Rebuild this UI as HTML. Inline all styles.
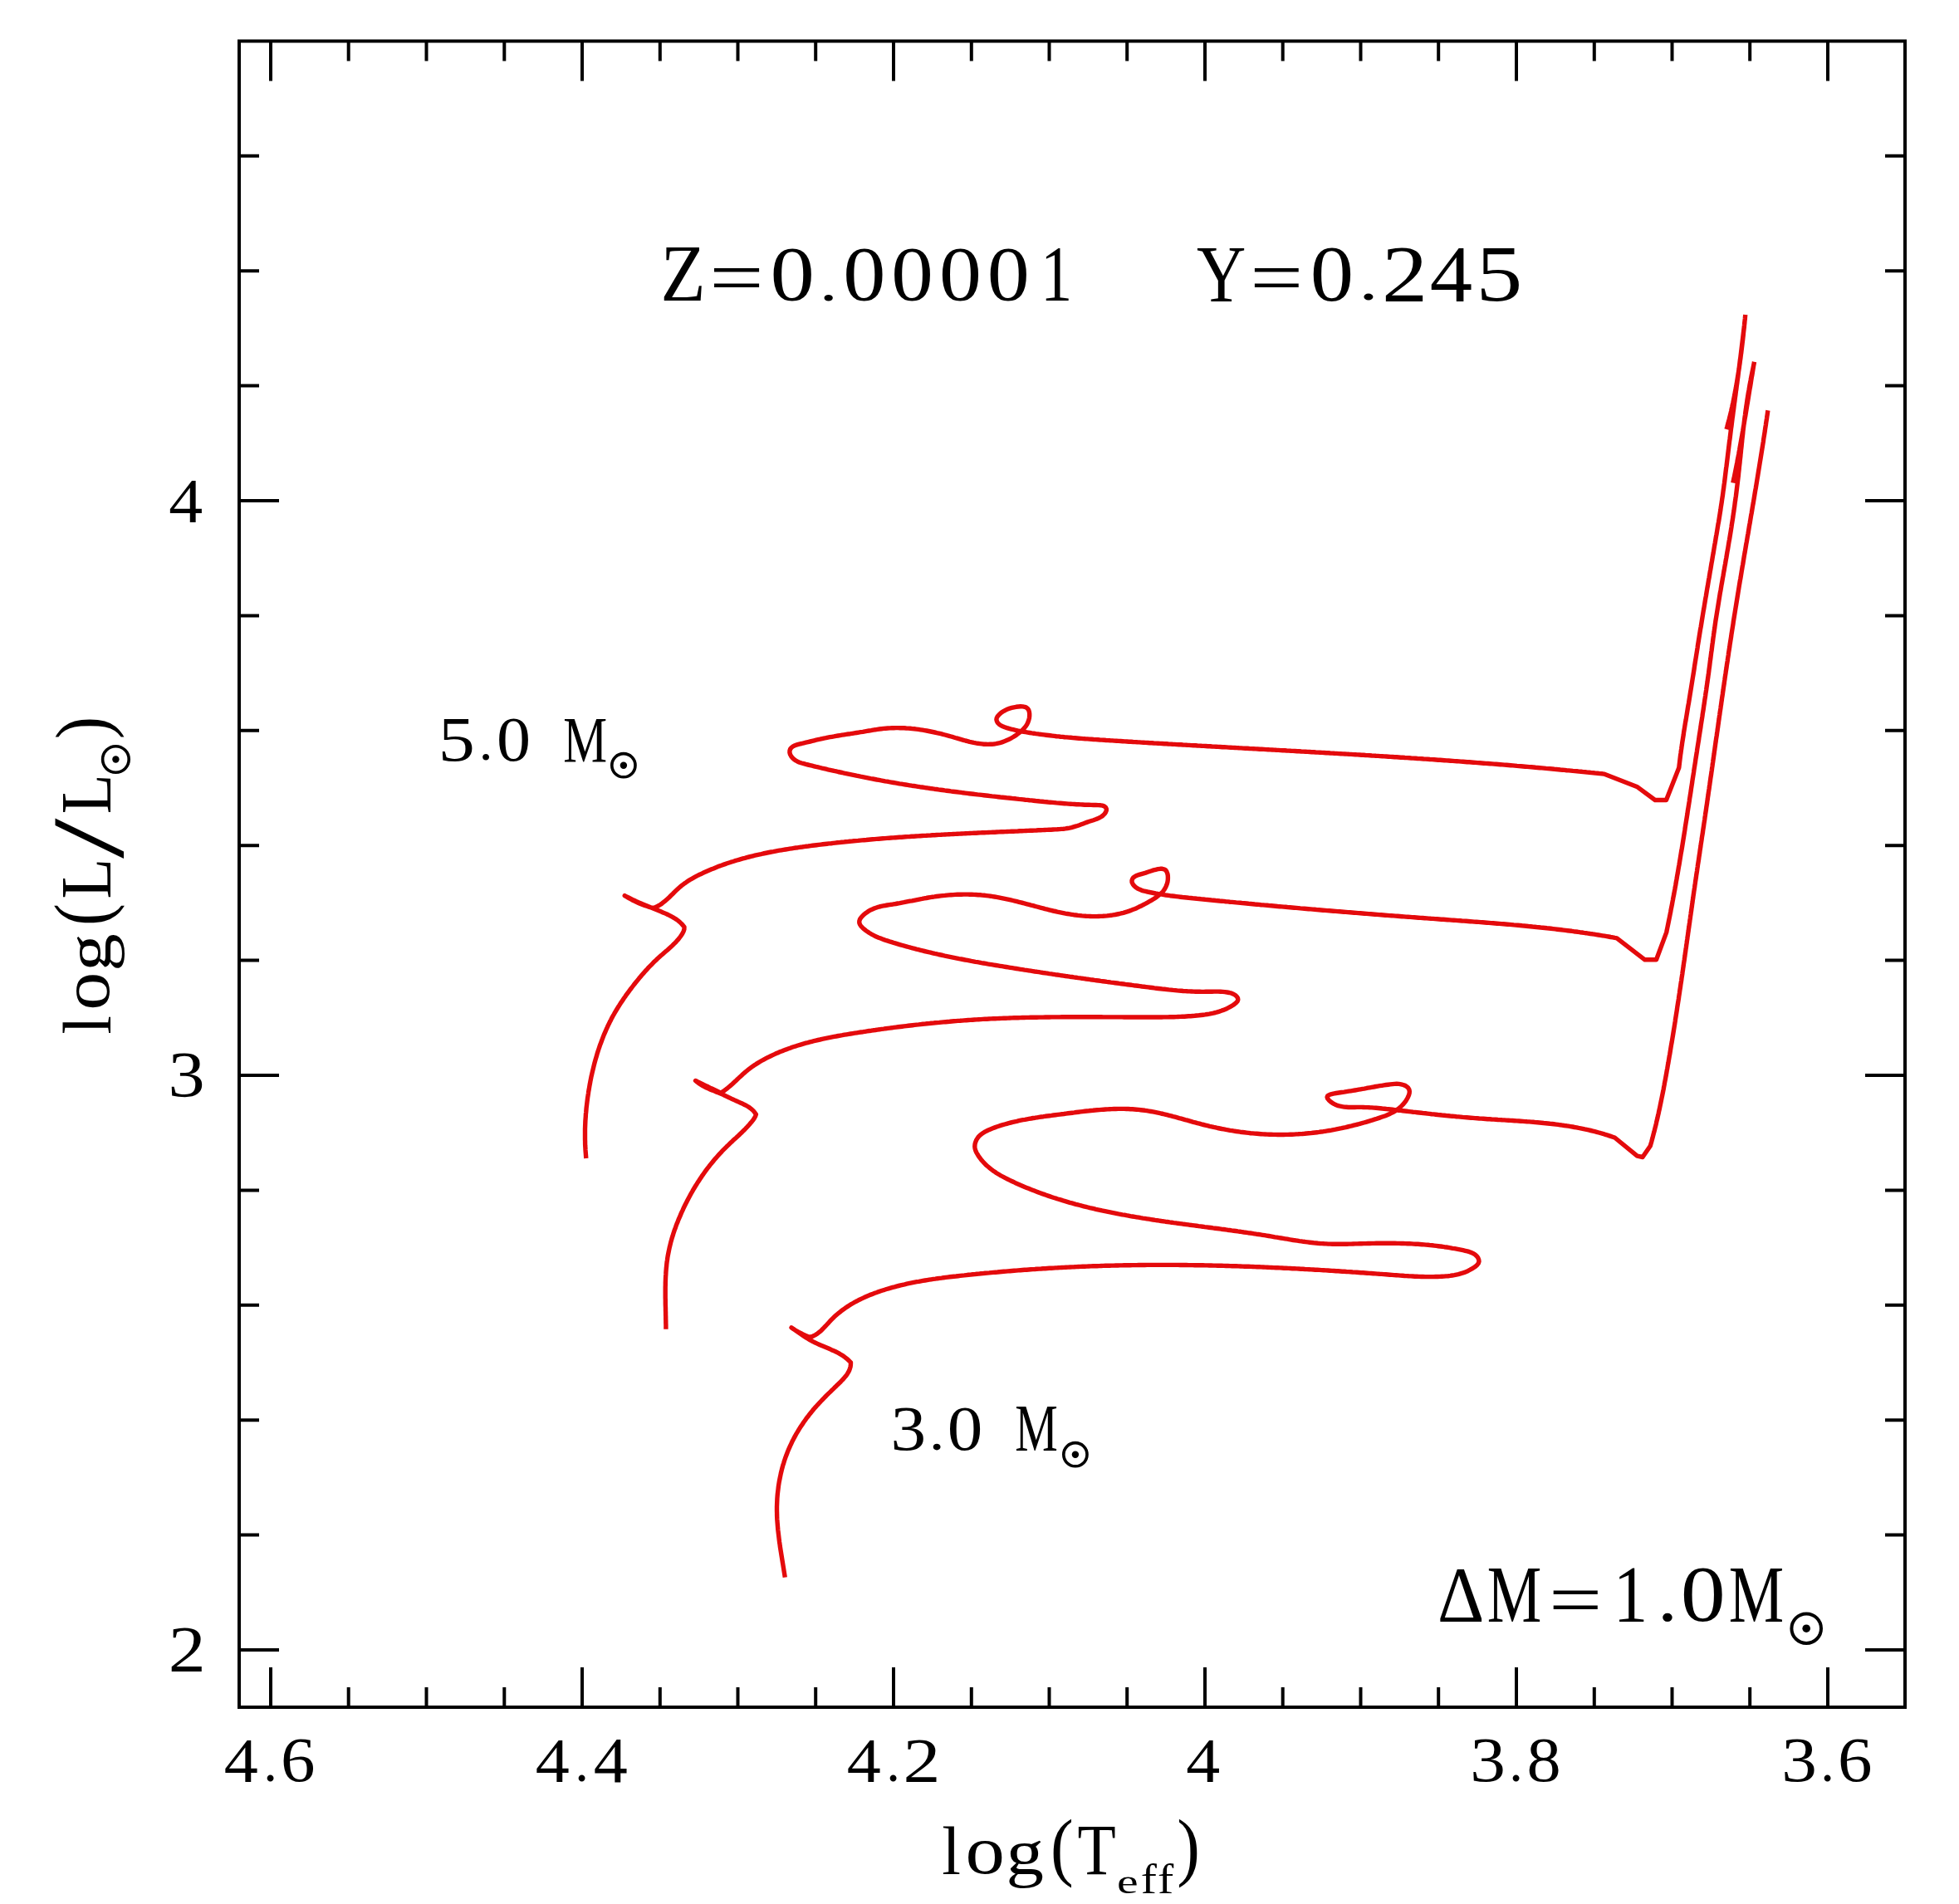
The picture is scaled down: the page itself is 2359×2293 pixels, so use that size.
<!DOCTYPE html><html><head><meta charset="utf-8"><style>html,body{margin:0;padding:0;background:#fff;}svg{display:block;}text{font-family:"Liberation Serif",serif;fill:#000;}</style></head><body>
<svg width="2359" height="2293" viewBox="0 0 2359 2293">
<rect width="100%" height="100%" fill="#fff"/>
<g stroke="#000" stroke-width="4" fill="none" stroke-linecap="square">
<path d="M288 49.5H2294V2056H288Z" stroke-linejoin="miter"/>
<path d="M326.0 2056v-48M326.0 49.5v48M419.7 2056v-24M419.7 49.5v24M513.5 2056v-24M513.5 49.5v24M607.3 2056v-24M607.3 49.5v24M701.0 2056v-48M701.0 49.5v48M794.8 2056v-24M794.8 49.5v24M888.5 2056v-24M888.5 49.5v24M982.2 2056v-24M982.2 49.5v24M1076.0 2056v-48M1076.0 49.5v48M1169.8 2056v-24M1169.8 49.5v24M1263.5 2056v-24M1263.5 49.5v24M1357.2 2056v-24M1357.2 49.5v24M1451.0 2056v-48M1451.0 49.5v48M1544.7 2056v-24M1544.7 49.5v24M1638.5 2056v-24M1638.5 49.5v24M1732.2 2056v-24M1732.2 49.5v24M1826.0 2056v-48M1826.0 49.5v48M1919.8 2056v-24M1919.8 49.5v24M2013.5 2056v-24M2013.5 49.5v24M2107.2 2056v-24M2107.2 49.5v24M2201.0 2056v-48M2201.0 49.5v48M288 1987.0h48M2294 1987.0h-48M288 1848.6h24M2294 1848.6h-24M288 1710.2h24M2294 1710.2h-24M288 1571.8h24M2294 1571.8h-24M288 1433.4h24M2294 1433.4h-24M288 1295.0h48M2294 1295.0h-48M288 1156.6h24M2294 1156.6h-24M288 1018.2h24M2294 1018.2h-24M288 879.8h24M2294 879.8h-24M288 741.4h24M2294 741.4h-24M288 603.0h48M2294 603.0h-48M288 464.6h24M2294 464.6h-24M288 326.2h24M2294 326.2h-24M288 187.8h24M2294 187.8h-24" stroke-linecap="butt"/>
</g>
<text font-size="76.81" transform="translate(269.66 2146.00) scale(1.0696 1)">4</text>
<text font-size="68.09" transform="translate(317.17 2144.98) scale(0.9792 1)">.</text>
<text font-size="75.84" transform="translate(337.97 2145.24) scale(1.0950 1)">6</text>
<text font-size="76.81" transform="translate(644.66 2146.00) scale(1.0696 1)">4</text>
<text font-size="68.09" transform="translate(692.17 2144.98) scale(0.9792 1)">.</text>
<text font-size="77.57" transform="translate(714.86 2146.00) scale(1.0591 1)">4</text>
<text font-size="76.81" transform="translate(1019.66 2146.00) scale(1.0696 1)">4</text>
<text font-size="68.09" transform="translate(1067.17 2144.98) scale(0.9792 1)">.</text>
<text font-size="76.98" transform="translate(1087.45 2146.00) scale(1.1691 1)">2</text>
<text font-size="75.09" transform="translate(1770.25 2145.25) scale(1.1364 1)">3</text>
<text font-size="68.09" transform="translate(1817.17 2144.98) scale(0.9792 1)">.</text>
<text font-size="75.56" transform="translate(1838.41 2145.24) scale(1.0900 1)">8</text>
<text font-size="75.09" transform="translate(2145.25 2145.25) scale(1.1364 1)">3</text>
<text font-size="68.09" transform="translate(2192.17 2144.98) scale(0.9792 1)">.</text>
<text font-size="75.84" transform="translate(2212.97 2145.24) scale(1.0950 1)">6</text>
<text font-size="76.65" transform="translate(1428.26 2146.10) scale(1.0689 1)">4</text>
<text font-size="76.20" transform="translate(203.36 628.90) scale(1.0753 1)">4</text>
<text font-size="77.92" transform="translate(202.61 1320.42) scale(1.1325 1)">3</text>
<text font-size="77.43" transform="translate(202.85 2012.10) scale(1.1623 1)">2</text>
<text font-size="96.79" transform="translate(795.59 362.30) scale(0.9161 1)">Z</text>
<text font-size="90.40" transform="translate(854.19 365.06) scale(1.2846 1)">=</text>
<text font-size="93.04" transform="translate(927.59 361.37) scale(1.1482 1)">0</text>
<text font-size="63.83" transform="translate(986.81 361.54) scale(1.3708 1)">.</text>
<text font-size="93.04" transform="translate(1015.16 361.37) scale(1.1001 1)">0</text>
<text font-size="93.04" transform="translate(1073.21 361.37) scale(1.0875 1)">0</text>
<text font-size="93.04" transform="translate(1130.88 361.37) scale(1.0951 1)">0</text>
<text font-size="93.04" transform="translate(1188.77 361.37) scale(1.0976 1)">0</text>
<text font-size="96.06" transform="translate(1252.90 362.30) scale(0.7974 1)">1</text>
<text font-size="97.79" transform="translate(1440.98 362.80) scale(0.8389 1)">Y</text>
<text font-size="90.00" transform="translate(1505.32 365.07) scale(1.2616 1)">=</text>
<text font-size="94.89" transform="translate(1577.77 361.85) scale(1.1035 1)">0</text>
<text font-size="67.23" transform="translate(1636.33 361.09) scale(1.3882 1)">.</text>
<text font-size="96.68" transform="translate(1663.93 362.80) scale(1.1430 1)">2</text>
<text font-size="97.41" transform="translate(1721.64 362.80) scale(1.0552 1)">4</text>
<text font-size="96.32" transform="translate(1777.49 361.84) scale(1.1582 1)">5</text>
<text font-size="76.84" transform="translate(527.83 915.63) scale(1.1478 1)">5</text>
<text font-size="62.98" transform="translate(576.67 915.46) scale(1.0586 1)">.</text>
<text font-size="75.70" transform="translate(598.12 915.64) scale(1.0847 1)">0</text>
<text font-size="78.93" transform="translate(678.22 917.00) scale(0.7525 1)">M</text>
<text font-size="77.03" transform="translate(1072.55 1746.03) scale(1.1079 1)">3</text>
<text font-size="66.38" transform="translate(1118.83 1745.80) scale(1.1298 1)">.</text>
<text font-size="76.74" transform="translate(1140.71 1746.03) scale(1.1099 1)">0</text>
<text font-size="79.39" transform="translate(1222.16 1747.00) scale(0.7300 1)">M</text>
<text font-size="94.85" transform="translate(1730.91 1953.20) scale(0.9252 1)">Δ</text>
<text font-size="97.40" transform="translate(1790.79 1953.20) scale(0.7570 1)">M</text>
<text font-size="88.80" transform="translate(1865.09 1955.53) scale(1.2860 1)">=</text>
<text font-size="96.67" transform="translate(1942.73 1953.20) scale(0.8599 1)">1</text>
<text font-size="86.81" transform="translate(1995.66 1951.90) scale(1.1232 1)">.</text>
<text font-size="94.52" transform="translate(2023.75 1952.25) scale(1.1426 1)">0</text>
<text font-size="97.40" transform="translate(2081.76 1953.20) scale(0.7669 1)">M</text>
<circle cx="750.9" cy="921.7" r="14.1" fill="none" stroke="#000" stroke-width="3.6"/><circle cx="750.9" cy="921.7" r="4.2" fill="#000"/>
<circle cx="1294.9" cy="1751.7" r="14.1" fill="none" stroke="#000" stroke-width="3.6"/><circle cx="1294.9" cy="1751.7" r="4.2" fill="#000"/>
<circle cx="2175.2" cy="1961.2" r="17.8" fill="none" stroke="#000" stroke-width="4"/><circle cx="2175.2" cy="1961.2" r="4.8" fill="#000"/>
<text font-size="82.30" transform="translate(1134.27 2256.70) scale(0.9925 1)">l</text>
<text font-size="82.92" transform="translate(1162.44 2255.87) scale(1.1436 1)">o</text>
<text font-size="79.03" transform="translate(1211.53 2257.21) scale(1.1510 1)">g</text>
<text font-size="91.90" transform="translate(1265.06 2253.67) scale(0.9046 1)">(</text>
<text font-size="87.33" transform="translate(1297.48 2256.70) scale(0.8665 1)">T</text>
<text font-size="40.42" transform="translate(1344.99 2279.60) scale(1.4310 1)">e</text>
<text font-size="49.65" transform="translate(1373.77 2280.00) scale(1.1586 1)">f</text>
<text font-size="49.65" transform="translate(1394.06 2280.00) scale(1.1653 1)">f</text>
<text font-size="91.90" transform="translate(1417.30 2253.67) scale(0.9043 1)">)</text>
<text font-size="83.31" transform="matrix(0 -0.9754 1 0 132.80 1245.83)">l</text>
<text font-size="81.46" transform="matrix(0 -1.1323 1 0 131.39 1216.76)">o</text>
<text font-size="79.03" transform="matrix(0 -1.1481 1 0 133.41 1169.66)">g</text>
<text font-size="92.45" transform="matrix(0 -0.8653 1 0 130.25 1114.80)">(</text>
<text font-size="87.63" transform="matrix(0 -0.9107 1 0 132.80 1082.39)">L</text>
<text font-size="123.43" transform="matrix(0 -1.4130 1 0 148.07 1034.00)">/</text>
<text font-size="87.63" transform="matrix(0 -0.8975 1 0 132.80 980.26)">L</text>
<text font-size="91.13" transform="matrix(0 -0.8907 1 0 129.93 890.04)">)</text>
<circle cx="139.4" cy="914.5" r="15.8" fill="none" stroke="#000" stroke-width="3.6"/><circle cx="139.4" cy="914.5" r="4.2" fill="#000"/>
<g fill="none" stroke="#e40a0c" stroke-width="5.4" stroke-linejoin="round" stroke-linecap="butt">
<path d="M705.8 1395.0L705.6 1392.5 705.4 1389.9 705.2 1387.4 705.0 1384.9 704.9 1382.3 704.7 1379.8 704.6 1377.3 704.6 1374.7 704.5 1372.2 704.5 1369.7 704.5 1367.2 704.5 1364.7 704.5 1362.1 704.5 1359.6 704.6 1357.1 704.7 1354.6 704.8 1352.1 704.9 1349.6 705.1 1347.1 705.3 1344.6 705.4 1342.0 705.7 1339.5 705.9 1337.0 706.1 1334.5 706.4 1332.0 706.7 1329.5 707.0 1327.0 707.3 1324.6 707.6 1322.1 708.0 1319.6 708.4 1317.1 708.7 1314.6 709.2 1312.1 709.6 1309.6 710.0 1307.1 710.5 1304.6 710.9 1302.2 711.4 1299.7 711.9 1297.2 712.5 1294.7 713.0 1292.3 713.6 1289.8 714.2 1287.3 714.8 1284.9 715.4 1282.4 716.0 1280.0 716.7 1277.5 717.4 1275.1 718.1 1272.7 718.8 1270.2 719.5 1267.8 720.3 1265.4 721.1 1263.0 721.9 1260.6 722.7 1258.2 723.6 1255.9 724.5 1253.5 725.4 1251.1 726.3 1248.8 727.2 1246.4 728.2 1244.1 729.2 1241.8 730.2 1239.5 731.3 1237.2 732.3 1234.9 733.4 1232.7 734.5 1230.4 735.7 1228.2 736.8 1225.9 738.0 1223.7 739.3 1221.5 740.5 1219.3 741.8 1217.1 743.1 1215.0 744.4 1212.8 745.8 1210.7 747.1 1208.6 748.5 1206.5 749.9 1204.4 751.3 1202.3 752.8 1200.2 754.2 1198.1 755.7 1196.1 757.2 1194.1 758.7 1192.0 760.3 1190.0 761.8 1188.0 763.3 1186.0 764.9 1184.0 766.5 1182.1 768.1 1180.1 769.7 1178.1 771.3 1176.2 772.9 1174.3 774.6 1172.4 776.2 1170.5 777.9 1168.6 779.6 1166.8 781.3 1164.9 783.1 1163.1 784.9 1161.3 786.6 1159.5 788.4 1157.7 790.3 1156.0 792.1 1154.2 794.0 1152.5 795.9 1150.8 797.8 1149.2 799.7 1147.5 801.7 1145.8 803.6 1144.2 805.5 1142.5 807.4 1140.8 809.2 1139.1 811.0 1137.3 812.8 1135.6 814.5 1133.8 816.2 1131.9 817.8 1130.0 819.3 1128.0 820.7 1126.0 822.0 1123.9 823.1 1121.6 823.9 1119.2 824.0 1116.5L822.4 1114.4 820.6 1112.4 818.7 1110.6 816.8 1108.9 814.7 1107.4 812.5 1106.0 810.2 1104.6 807.9 1103.4 805.5 1102.2 803.2 1101.0 800.7 1099.9 798.3 1098.9 795.8 1097.8 793.3 1096.8 790.9 1095.8 788.4 1094.8 785.9 1093.8 783.5 1092.8 781.0 1091.8 778.6 1090.8 776.1 1089.8 773.7 1088.8 771.3 1087.7 768.9 1086.7 766.5 1085.6 764.1 1084.5 761.7 1083.4 759.3 1082.2 756.9 1081.0 754.6 1079.8 752.2 1078.6L754.5 1080.0 756.8 1081.4 759.2 1082.7 761.5 1084.0 763.9 1085.2 766.3 1086.4 768.8 1087.5 771.2 1088.5 773.7 1089.5 776.2 1090.4 778.8 1091.3 781.3 1092.1 783.9 1092.9 786.5 1093.6L788.9 1092.7 791.2 1091.6 793.4 1090.5 795.5 1089.2 797.6 1087.7 799.5 1086.2 801.5 1084.6 803.3 1083.0 805.2 1081.3 807.0 1079.5 808.8 1077.7 810.6 1076.0 812.4 1074.2 814.2 1072.4 816.0 1070.7 817.9 1069.0 819.8 1067.4 821.7 1065.8 823.7 1064.3 825.8 1062.9 827.8 1061.5 829.9 1060.1 832.1 1058.8 834.3 1057.6 836.4 1056.4 838.7 1055.2 840.9 1054.0 843.1 1052.9 845.4 1051.9 847.7 1050.8 850.0 1049.8 852.3 1048.8 854.6 1047.8 856.9 1046.8 859.2 1045.9 861.5 1044.9 863.8 1044.0 866.1 1043.1 868.5 1042.3 870.8 1041.4 873.2 1040.6 875.5 1039.8 877.9 1039.0 880.3 1038.2 882.7 1037.5 885.0 1036.7 887.4 1036.0 889.8 1035.3 892.2 1034.6 894.6 1033.9 897.0 1033.3 899.4 1032.6 901.9 1032.0 904.3 1031.4 906.7 1030.8 909.1 1030.2 911.6 1029.6 914.0 1029.1 916.5 1028.6 918.9 1028.0 921.4 1027.5 923.8 1027.0 926.3 1026.5 928.7 1026.0 931.2 1025.6 933.7 1025.1 936.1 1024.6 938.6 1024.2 941.1 1023.8 943.5 1023.4 946.0 1023.0 948.5 1022.6 951.0 1022.2 953.5 1021.8 955.9 1021.4 958.4 1021.0 960.9 1020.7 963.4 1020.3 965.9 1020.0 968.4 1019.6 970.9 1019.3 973.4 1019.0 975.9 1018.6 978.4 1018.3 980.9 1018.0 983.3 1017.7 985.8 1017.4 988.3 1017.1 990.8 1016.8 993.3 1016.5 995.8 1016.2 998.3 1015.9 1000.8 1015.7 1003.3 1015.4 1005.8 1015.1 1008.3 1014.8 1010.8 1014.6 1013.3 1014.3 1015.8 1014.1 1018.2 1013.8 1020.7 1013.6 1023.2 1013.3 1025.7 1013.1 1028.2 1012.8 1030.7 1012.6 1033.2 1012.4 1035.7 1012.1 1038.2 1011.9 1040.7 1011.7 1043.2 1011.5 1045.7 1011.2 1048.2 1011.0 1050.7 1010.8 1053.1 1010.6 1055.6 1010.4 1058.1 1010.2 1060.6 1010.0 1063.1 1009.8 1065.6 1009.6 1068.1 1009.4 1070.6 1009.2 1073.1 1009.0 1075.6 1008.9 1078.1 1008.7 1080.6 1008.5 1083.1 1008.3 1085.6 1008.2 1088.1 1008.0 1090.5 1007.8 1093.0 1007.6 1095.5 1007.5 1098.0 1007.3 1100.5 1007.2 1103.0 1007.0 1105.5 1006.9 1108.0 1006.7 1110.5 1006.5 1113.0 1006.4 1115.5 1006.3 1118.0 1006.1 1120.5 1006.0 1123.0 1005.8 1125.5 1005.7 1128.0 1005.5 1130.5 1005.4 1133.0 1005.3 1135.5 1005.1 1138.0 1005.0 1140.4 1004.9 1142.9 1004.7 1145.4 1004.6 1147.9 1004.5 1150.4 1004.4 1152.9 1004.2 1155.4 1004.1 1157.9 1004.0 1160.4 1003.9 1162.9 1003.7 1165.4 1003.6 1167.9 1003.5 1170.4 1003.4 1172.9 1003.3 1175.4 1003.2 1177.9 1003.0 1180.4 1002.9 1182.9 1002.8 1185.4 1002.7 1187.9 1002.6 1190.4 1002.5 1192.9 1002.4 1195.4 1002.3 1197.9 1002.2 1200.4 1002.0 1202.9 1001.9 1205.4 1001.8 1207.9 1001.7 1210.4 1001.6 1213.0 1001.5 1215.5 1001.4 1218.0 1001.3 1220.5 1001.2 1223.0 1001.1 1225.5 1001.0 1228.0 1000.8 1230.5 1000.7 1233.0 1000.6 1235.5 1000.5 1238.0 1000.4 1240.5 1000.3 1243.0 1000.2 1245.5 1000.1 1248.0 1000.0 1250.5 999.8 1253.1 999.7 1255.6 999.6 1258.1 999.5 1260.6 999.4 1263.1 999.3 1265.6 999.2 1268.1 999.0 1270.6 998.9 1273.1 998.8 1275.6 998.6 1278.1 998.4 1280.6 998.2 1283.1 997.9 1285.5 997.5 1287.9 997.1 1290.3 996.6 1292.7 995.9 1295.1 995.2 1297.4 994.5 1299.7 993.7 1302.1 992.8 1304.4 991.9 1306.8 991.0 1309.2 990.1 1311.7 989.3 1314.2 988.5 1316.7 987.7 1319.3 986.8 1321.7 985.9 1324.1 984.8 1326.3 983.5 1328.3 982.0 1330.1 980.1 1331.5 978.1 1332.3 976.0 1332.3 974.1 1331.5 972.4 1329.9 971.1 1327.8 970.2 1325.3 969.8 1322.5 969.6 1319.6 969.5 1316.7 969.5 1314.0 969.4 1311.3 969.3 1308.7 969.2 1306.1 969.2 1303.6 969.0 1301.2 968.9 1298.8 968.8 1296.4 968.7 1294.0 968.5 1291.6 968.4 1289.2 968.2 1286.8 968.1 1284.4 967.9 1281.9 967.7 1279.5 967.5 1277.0 967.3 1274.6 967.1 1272.1 966.9 1269.6 966.6 1267.1 966.4 1264.7 966.2 1262.2 966.0 1259.7 965.7 1257.2 965.5 1254.7 965.2 1252.1 965.0 1249.6 964.7 1247.1 964.5 1244.6 964.2 1242.1 963.9 1239.6 963.7 1237.1 963.4 1234.6 963.2 1232.1 962.9 1229.6 962.6 1227.1 962.4 1224.6 962.1 1222.1 961.8 1219.6 961.6 1217.1 961.3 1214.6 961.0 1212.1 960.8 1209.6 960.5 1207.1 960.2 1204.6 960.0 1202.1 959.7 1199.6 959.4 1197.1 959.1 1194.6 958.9 1192.1 958.6 1189.6 958.3 1187.1 958.0 1184.7 957.7 1182.2 957.4 1179.7 957.1 1177.2 956.9 1174.7 956.6 1172.2 956.3 1169.8 956.0 1167.3 955.7 1164.8 955.4 1162.3 955.1 1159.8 954.8 1157.4 954.4 1154.9 954.1 1152.4 953.8 1149.9 953.5 1147.4 953.2 1145.0 952.9 1142.5 952.5 1140.0 952.2 1137.5 951.9 1135.1 951.5 1132.6 951.2 1130.1 950.9 1127.7 950.5 1125.2 950.2 1122.7 949.8 1120.2 949.5 1117.8 949.1 1115.3 948.8 1112.8 948.4 1110.4 948.0 1107.9 947.7 1105.4 947.3 1102.9 946.9 1100.5 946.5 1098.0 946.2 1095.5 945.8 1093.1 945.4 1090.6 945.0 1088.1 944.6 1085.7 944.2 1083.2 943.8 1080.7 943.3 1078.2 942.9 1075.8 942.5 1073.3 942.1 1070.8 941.7 1068.4 941.2 1065.9 940.8 1063.4 940.3 1061.0 939.9 1058.5 939.4 1056.0 939.0 1053.5 938.5 1051.1 938.0 1048.6 937.6 1046.1 937.1 1043.7 936.6 1041.2 936.1 1038.7 935.6 1036.3 935.2 1033.8 934.7 1031.3 934.2 1028.9 933.6 1026.4 933.1 1024.0 932.6 1021.5 932.1 1019.1 931.6 1016.6 931.1 1014.2 930.5 1011.7 930.0 1009.3 929.5 1006.9 928.9 1004.4 928.4 1002.0 927.8 999.6 927.3 997.2 926.8 994.7 926.2 992.3 925.6 989.9 925.1 987.5 924.5 985.1 923.9 982.7 923.4 980.3 922.8 977.9 922.2 975.4 921.6 972.9 921.0 970.4 920.4 967.9 919.7 965.4 919.0 962.9 918.2 960.5 917.2 958.3 916.0 956.2 914.5 954.3 912.7 952.7 910.7 951.5 908.5 950.9 906.2 951.0 904.0 951.7 902.0 953.0 900.3 954.9 898.9 957.2 897.8 959.7 896.9 962.4 896.1 965.2 895.5 967.9 894.8 970.5 894.2 973.1 893.6 975.6 893.0 978.0 892.4 980.4 891.8 982.8 891.2 985.2 890.7 987.5 890.2 989.9 889.6 992.2 889.1 994.6 888.7 997.0 888.2 999.4 887.7 1001.8 887.3 1004.2 886.9 1006.7 886.4 1009.1 886.0 1011.6 885.6 1014.0 885.2 1016.5 884.8 1019.0 884.4 1021.5 884.0 1023.9 883.7 1026.4 883.3 1028.9 882.9 1031.4 882.5 1033.9 882.1 1036.4 881.7 1039.0 881.3 1041.5 880.8 1044.0 880.4 1046.5 880.0 1049.0 879.6 1051.5 879.1 1054.0 878.8 1056.5 878.4 1059.0 878.0 1061.5 877.7 1064.0 877.4 1066.5 877.2 1069.0 877.0 1071.5 876.9 1074.0 876.8 1076.4 876.7 1078.9 876.6 1081.4 876.6 1083.9 876.7 1086.3 876.7 1088.8 876.8 1091.3 877.0 1093.7 877.1 1096.2 877.3 1098.6 877.6 1101.1 877.8 1103.5 878.1 1106.0 878.4 1108.5 878.8 1110.9 879.2 1113.4 879.6 1115.8 880.0 1118.3 880.5 1120.7 881.0 1123.2 881.5 1125.6 882.0 1128.1 882.6 1130.5 883.1 1133.0 883.7 1135.5 884.4 1137.9 885.0 1140.4 885.7 1142.9 886.3 1145.3 887.0 1147.8 887.7 1150.3 888.5 1152.7 889.2 1155.2 889.9 1157.7 890.6 1160.1 891.3 1162.6 892.0 1165.1 892.6 1167.6 893.3 1170.0 893.8 1172.5 894.4 1175.0 894.9 1177.4 895.3 1179.9 895.6 1182.3 895.9 1184.8 896.2 1187.2 896.3 1189.6 896.4 1192.1 896.3 1194.5 896.2 1196.9 896.0 1199.3 895.6 1201.7 895.1 1204.1 894.6 1206.5 893.9 1208.9 893.0 1211.2 892.1 1213.5 891.1 1215.8 890.0 1218.0 888.8 1220.2 887.5 1222.4 886.1 1224.5 884.7 1226.5 883.2 1228.5 881.6 1230.4 880.0 1232.2 878.2 1233.8 876.4 1235.4 874.4 1236.7 872.3 1237.8 870.0 1238.7 867.5 1239.4 864.9 1239.7 862.2 1239.7 859.6 1239.4 857.3 1238.7 855.1 1237.5 853.4 1235.9 852.1 1233.9 851.3 1231.6 850.9 1229.0 850.8 1226.3 851.0 1223.6 851.3 1220.9 851.8 1218.3 852.4 1215.8 853.1 1213.3 854.0 1211.0 855.1 1208.8 856.3 1206.6 857.6 1204.6 859.2 1202.8 860.9 1201.2 862.8 1200.2 864.7 1199.9 866.7 1200.4 868.7 1201.5 870.6 1203.1 872.2 1205.1 873.6 1207.4 874.7 1209.9 875.7 1212.5 876.6 1215.1 877.4 1217.7 878.1 1220.3 878.7 1222.8 879.3 1225.3 879.9 1227.8 880.4 1230.2 880.8 1232.7 881.3 1235.1 881.7 1237.6 882.1 1240.0 882.5 1242.5 882.9 1244.9 883.2 1247.4 883.6 1249.8 883.9 1252.3 884.3 1254.8 884.6 1257.2 884.9 1259.7 885.2 1262.2 885.5 1264.6 885.8 1267.1 886.1 1269.6 886.4 1272.1 886.7 1274.6 886.9 1277.0 887.2 1279.5 887.4 1282.0 887.7 1284.5 887.9 1287.0 888.1 1289.5 888.3 1292.0 888.6 1294.5 888.8 1296.9 889.0 1299.4 889.2 1301.9 889.4 1304.4 889.6 1306.9 889.8 1309.4 889.9 1311.9 890.1 1314.4 890.3 1316.9 890.5 1319.4 890.6 1321.9 890.8 1324.4 891.0 1326.9 891.1 1329.4 891.3 1331.9 891.5 1334.4 891.6 1336.9 891.8 1339.4 891.9 1341.9 892.1 1344.4 892.2 1346.9 892.4 1349.4 892.5 1351.9 892.7 1354.4 892.9 1356.9 893.0 1359.4 893.2 1361.9 893.3 1364.5 893.5 1367.0 893.6 1369.5 893.8 1372.0 893.9 1374.5 894.1 1377.0 894.2 1379.5 894.4 1382.0 894.5 1384.5 894.7 1387.0 894.8 1389.5 895.0 1392.0 895.1 1394.5 895.2 1397.0 895.4 1399.5 895.5 1402.0 895.7 1404.5 895.8 1407.0 896.0 1409.5 896.1 1412.0 896.3 1414.5 896.4 1417.0 896.6 1419.5 896.7 1422.0 896.8 1424.5 897.0 1427.0 897.1 1429.5 897.3 1432.0 897.4 1434.5 897.6 1437.0 897.7 1439.5 897.8 1442.0 898.0 1444.5 898.1 1447.0 898.3 1449.5 898.4 1452.0 898.5 1454.5 898.7 1457.0 898.8 1459.5 899.0 1462.0 899.1 1464.5 899.2 1467.0 899.4 1469.5 899.5 1472.0 899.7 1474.5 899.8 1477.0 899.9 1479.5 900.1 1482.0 900.2 1484.5 900.4 1487.0 900.5 1489.5 900.6 1492.0 900.8 1494.5 900.9 1497.0 901.1 1499.5 901.2 1502.0 901.3 1504.5 901.5 1507.0 901.6 1509.5 901.7 1512.0 901.9 1514.5 902.0 1517.0 902.2 1519.5 902.3 1522.0 902.4 1524.5 902.6 1527.0 902.7 1529.5 902.9 1532.0 903.0 1534.5 903.1 1537.0 903.3 1539.5 903.4 1542.0 903.6 1544.5 903.7 1547.0 903.8 1549.5 904.0 1552.0 904.1 1554.5 904.3 1557.0 904.4 1559.5 904.5 1562.0 904.7 1564.5 904.8 1567.0 905.0 1569.5 905.1 1572.0 905.2 1574.5 905.4 1577.0 905.5 1579.5 905.7 1582.0 905.8 1584.5 906.0 1587.0 906.1 1589.5 906.2 1592.0 906.4 1594.5 906.5 1597.0 906.7 1599.5 906.8 1602.0 907.0 1604.5 907.1 1607.0 907.3 1609.5 907.4 1612.0 907.6 1614.5 907.7 1617.0 907.9 1619.5 908.0 1622.0 908.1 1624.5 908.3 1627.0 908.4 1629.5 908.6 1632.0 908.7 1634.5 908.9 1637.0 909.0 1639.5 909.2 1641.9 909.3 1644.4 909.5 1646.9 909.6 1649.4 909.8 1651.9 910.0 1654.4 910.1 1656.9 910.3 1659.4 910.4 1661.9 910.6 1664.4 910.7 1666.9 910.9 1669.4 911.0 1671.9 911.2 1674.4 911.4 1676.9 911.5 1679.4 911.7 1681.9 911.8 1684.4 912.0 1686.9 912.2 1689.4 912.3 1691.9 912.5 1694.4 912.6 1696.9 912.8 1699.4 913.0 1701.9 913.1 1704.4 913.3 1706.9 913.5 1709.4 913.6 1711.9 913.8 1714.4 914.0 1716.9 914.1 1719.4 914.3 1721.9 914.5 1724.4 914.6 1726.9 914.8 1729.3 915.0 1731.8 915.2 1734.3 915.3 1736.8 915.5 1739.3 915.7 1741.8 915.9 1744.3 916.0 1746.8 916.2 1749.3 916.4 1751.8 916.6 1754.3 916.7 1756.8 916.9 1759.3 917.1 1761.8 917.3 1764.3 917.5 1766.8 917.7 1769.3 917.8 1771.8 918.0 1774.3 918.2 1776.8 918.4 1779.3 918.6 1781.8 918.8 1784.3 919.0 1786.8 919.2 1789.2 919.4 1791.7 919.5 1794.2 919.7 1796.7 919.9 1799.2 920.1 1801.7 920.3 1804.2 920.5 1806.7 920.7 1809.2 920.9 1811.7 921.1 1814.2 921.3 1816.7 921.5 1819.2 921.7 1821.7 921.9 1824.2 922.1 1826.7 922.4 1829.2 922.6 1831.7 922.8 1834.2 923.0 1836.6 923.2 1839.1 923.4 1841.6 923.6 1844.1 923.8 1846.6 924.0 1849.1 924.3 1851.6 924.5 1854.1 924.7 1856.6 924.9 1859.1 925.1 1861.6 925.4 1864.1 925.6 1866.6 925.8 1869.1 926.0 1871.6 926.3 1874.1 926.5 1876.6 926.7 1879.0 927.0 1881.5 927.2 1884.0 927.4 1886.5 927.7 1889.0 927.9 1891.5 928.1 1894.0 928.4 1896.5 928.6 1899.0 928.8 1901.5 929.1 1904.0 929.3 1906.5 929.6 1909.0 929.8 1911.5 930.1 1914.0 930.3 1916.4 930.6 1918.9 930.8 1921.4 931.1 1923.9 931.3 1926.4 931.6 1928.9 931.8 1931.4 932.1L1971.2 947.4L1993.0 963.5L2006.5 963.5L2021.8 924.4L2022.1 921.9 2022.4 919.4 2022.7 916.9 2023.0 914.4 2023.3 911.9 2023.6 909.4 2024.0 906.9 2024.3 904.4 2024.7 901.9 2025.0 899.4 2025.4 897.0 2025.7 894.5 2026.1 892.0 2026.5 889.5 2026.9 887.0 2027.3 884.5 2027.6 882.0 2028.0 879.5 2028.4 877.1 2028.8 874.6 2029.2 872.1 2029.6 869.6 2030.1 867.1 2030.5 864.6 2030.9 862.1 2031.3 859.7 2031.7 857.2 2032.1 854.7 2032.5 852.2 2032.9 849.7 2033.4 847.2 2033.8 844.8 2034.2 842.3 2034.6 839.8 2035.0 837.3 2035.4 834.8 2035.8 832.3 2036.2 829.9 2036.6 827.4 2037.0 824.9 2037.4 822.4 2037.8 819.9 2038.2 817.4 2038.6 814.9 2039.0 812.5 2039.4 810.0 2039.8 807.5 2040.2 805.0 2040.5 802.5 2040.9 800.0 2041.3 797.5 2041.7 795.0 2042.1 792.6 2042.5 790.1 2042.9 787.6 2043.3 785.1 2043.7 782.6 2044.1 780.1 2044.4 777.6 2044.8 775.2 2045.2 772.7 2045.6 770.2 2046.0 767.7 2046.4 765.2 2046.8 762.7 2047.2 760.2 2047.6 757.8 2048.1 755.3 2048.5 752.8 2048.9 750.3 2049.3 747.8 2049.7 745.3 2050.1 742.8 2050.5 740.4 2050.9 737.9 2051.3 735.4 2051.8 732.9 2052.2 730.4 2052.6 727.9 2053.0 725.5 2053.4 723.0 2053.8 720.5 2054.3 718.0 2054.7 715.5 2055.1 713.0 2055.5 710.6 2055.9 708.1 2056.4 705.6 2056.8 703.1 2057.2 700.6 2057.6 698.1 2058.1 695.7 2058.5 693.2 2058.9 690.7 2059.3 688.2 2059.8 685.7 2060.2 683.3 2060.6 680.8 2061.0 678.3 2061.5 675.8 2061.9 673.3 2062.3 670.8 2062.7 668.4 2063.2 665.9 2063.6 663.4 2064.0 660.9 2064.4 658.4 2064.8 656.0 2065.3 653.5 2065.7 651.0 2066.1 648.5 2066.5 646.0 2067.0 643.5 2067.4 641.1 2067.8 638.6 2068.2 636.1 2068.6 633.6 2069.0 631.1 2069.5 628.7 2069.9 626.2 2070.3 623.7 2070.7 621.2 2071.1 618.7 2071.5 616.2 2071.9 613.8 2072.2 611.3 2072.6 608.8 2073.0 606.3 2073.4 603.8 2073.7 601.3 2074.1 598.8 2074.5 596.3 2074.8 593.8 2075.1 591.3 2075.5 588.8 2075.8 586.4 2076.1 583.9 2076.5 581.4 2076.8 578.9 2077.1 576.4 2077.4 573.9 2077.7 571.4 2078.0 568.9 2078.3 566.4 2078.6 563.9 2079.0 561.4 2079.3 558.9 2079.6 556.4 2079.9 553.9 2080.2 551.4 2080.5 548.9 2080.8 546.4 2081.1 543.9 2081.4 541.4 2081.7 538.9 2082.0 536.4 2082.3 533.9 2082.6 531.4 2083.0 528.9 2083.3 526.4 2083.6 523.9 2083.9 521.4 2084.2 518.9 2084.5 516.4 2084.9 513.9 2085.2 511.4 2085.5 508.9 2085.8 506.4 2086.1 503.9 2086.5 501.4 2086.8 498.9 2087.1 496.4 2087.5 493.9 2087.8 491.4 2088.1 488.9 2088.4 486.4 2088.8 483.9 2089.1 481.4 2089.4 478.9 2089.8 476.4 2090.1 473.9 2090.4 471.4 2090.8 469.0 2091.1 466.5 2091.4 464.0 2091.8 461.5 2092.1 459.0 2092.4 456.5 2092.8 454.0 2093.1 451.5 2093.4 449.0 2093.7 446.5 2094.1 444.0 2094.4 441.5 2094.7 439.0 2095.0 436.5 2095.3 434.0 2095.7 431.5 2096.0 429.0 2096.3 426.5 2096.6 424.0 2096.9 421.5 2097.2 419.0 2097.5 416.5 2097.8 414.0 2098.1 411.5 2098.4 409.0 2098.7 406.5 2099.0 404.0 2099.3 401.5 2099.6 399.0 2099.9 396.5 2100.2 394.0 2100.5 391.5 2100.7 389.0 2101.0 386.5 2101.3 384.0 2101.5 381.5 2101.8 379.0M2101.8 379.0L2101.5 381.5 2101.3 384.1 2101.0 386.6 2100.8 389.1 2100.5 391.6 2100.3 394.2 2100.0 396.7 2099.7 399.2 2099.4 401.8 2099.2 404.3 2098.9 406.8 2098.6 409.4 2098.3 411.9 2098.0 414.4 2097.7 417.0 2097.4 419.5 2097.1 422.0 2096.8 424.5 2096.4 427.1 2096.1 429.6 2095.8 432.1 2095.4 434.6 2095.1 437.2 2094.7 439.7 2094.4 442.2 2094.0 444.7 2093.6 447.3 2093.2 449.8 2092.8 452.3 2092.4 454.8 2092.0 457.3 2091.6 459.8 2091.2 462.4 2090.7 464.9 2090.3 467.4 2089.8 469.9 2089.3 472.4 2088.9 474.9 2088.4 477.4 2087.9 479.9 2087.4 482.4 2086.9 484.9 2086.3 487.3 2085.8 489.8 2085.2 492.3 2084.7 494.8 2084.1 497.3 2083.5 499.8 2082.9 502.2 2082.3 504.7 2081.6 507.2 2081.0 509.6 2080.3 512.1 2079.7 514.5 2079.0 517.0"/>
<path d="M801.9 1600.7L801.9 1598.2 801.9 1595.7 801.8 1593.2 801.8 1590.7 801.7 1588.2 801.7 1585.7 801.6 1583.1 801.6 1580.6 801.5 1578.1 801.5 1575.5 801.4 1573.0 801.3 1570.5 801.3 1567.9 801.3 1565.4 801.2 1562.9 801.2 1560.3 801.2 1557.8 801.2 1555.2 801.2 1552.7 801.2 1550.1 801.3 1547.6 801.3 1545.1 801.4 1542.5 801.5 1540.0 801.6 1537.5 801.8 1534.9 801.9 1532.4 802.1 1529.9 802.3 1527.4 802.6 1524.9 802.8 1522.4 803.1 1519.8 803.5 1517.4 803.8 1514.9 804.2 1512.4 804.7 1509.9 805.2 1507.4 805.7 1505.0 806.2 1502.5 806.8 1500.1 807.4 1497.6 808.0 1495.2 808.7 1492.8 809.4 1490.3 810.2 1487.9 810.9 1485.5 811.7 1483.1 812.5 1480.7 813.4 1478.4 814.2 1476.0 815.1 1473.6 816.1 1471.3 817.0 1468.9 818.0 1466.6 819.0 1464.3 820.0 1461.9 821.0 1459.6 822.1 1457.3 823.1 1455.0 824.2 1452.8 825.3 1450.5 826.5 1448.2 827.6 1446.0 828.8 1443.7 830.0 1441.5 831.2 1439.3 832.4 1437.0 833.7 1434.8 834.9 1432.6 836.2 1430.5 837.5 1428.3 838.9 1426.2 840.2 1424.0 841.6 1421.9 843.0 1419.8 844.4 1417.7 845.8 1415.6 847.3 1413.5 848.7 1411.5 850.2 1409.4 851.7 1407.4 853.3 1405.4 854.8 1403.4 856.4 1401.4 858.0 1399.5 859.6 1397.5 861.2 1395.6 862.9 1393.7 864.6 1391.8 866.3 1389.9 868.0 1388.1 869.7 1386.2 871.5 1384.4 873.3 1382.6 875.1 1380.8 876.9 1379.1 878.7 1377.3 880.6 1375.6 882.4 1373.8 884.3 1372.1 886.2 1370.4 888.0 1368.7 889.9 1367.0 891.7 1365.2 893.5 1363.5 895.3 1361.7 897.1 1360.0 898.8 1358.2 900.5 1356.3 902.2 1354.5 903.8 1352.6 905.4 1350.7 906.9 1348.8 908.3 1346.7 909.5 1344.5 910.4 1342.1L908.9 1339.9 907.3 1337.9 905.4 1336.1 903.4 1334.5 901.3 1333.0 899.1 1331.7 896.7 1330.5 894.4 1329.3 891.9 1328.2 889.5 1327.1 887.0 1326.0 884.5 1324.9 882.1 1323.8 879.7 1322.6 877.3 1321.5 874.9 1320.3 872.6 1319.2 870.2 1318.1 867.7 1317.0 865.3 1316.0 862.9 1315.1 860.4 1314.1 858.0 1313.1 855.6 1312.2 853.2 1311.1 850.8 1310.1 848.5 1308.9 846.2 1307.7 843.9 1306.3 841.7 1304.8 839.6 1303.2 837.5 1301.4L840.0 1302.7 842.6 1303.9 845.1 1305.1 847.6 1306.4 850.2 1307.6 852.7 1308.8 855.2 1310.1 857.8 1311.3 860.3 1312.5 862.9 1313.7 865.4 1314.9 868.0 1316.1L870.1 1314.8 872.2 1313.4 874.2 1311.9 876.2 1310.3 878.1 1308.7 880.0 1307.1 881.9 1305.5 883.7 1303.8 885.6 1302.1 887.4 1300.3 889.2 1298.6 891.0 1296.9 892.9 1295.2 894.7 1293.5 896.6 1291.9 898.5 1290.3 900.4 1288.7 902.4 1287.2 904.4 1285.7 906.4 1284.2 908.5 1282.8 910.6 1281.4 912.7 1280.1 914.9 1278.8 917.0 1277.5 919.2 1276.3 921.4 1275.1 923.7 1273.9 925.9 1272.8 928.2 1271.7 930.5 1270.6 932.7 1269.6 935.0 1268.5 937.4 1267.6 939.7 1266.6 942.0 1265.7 944.3 1264.7 946.7 1263.9 949.0 1263.0 951.4 1262.2 953.7 1261.3 956.1 1260.5 958.5 1259.8 960.9 1259.0 963.2 1258.3 965.6 1257.6 968.0 1256.9 970.4 1256.2 972.9 1255.6 975.3 1254.9 977.7 1254.3 980.1 1253.7 982.5 1253.1 985.0 1252.5 987.4 1252.0 989.9 1251.4 992.3 1250.9 994.7 1250.4 997.2 1249.9 999.7 1249.4 1002.1 1248.9 1004.6 1248.4 1007.0 1248.0 1009.5 1247.5 1012.0 1247.1 1014.4 1246.7 1016.9 1246.2 1019.4 1245.8 1021.9 1245.4 1024.3 1245.0 1026.8 1244.6 1029.3 1244.2 1031.8 1243.8 1034.2 1243.4 1036.7 1243.0 1039.2 1242.7 1041.7 1242.3 1044.1 1241.9 1046.6 1241.5 1049.1 1241.2 1051.6 1240.8 1054.1 1240.5 1056.5 1240.1 1059.0 1239.8 1061.5 1239.4 1064.0 1239.1 1066.5 1238.7 1069.0 1238.4 1071.4 1238.1 1073.9 1237.8 1076.4 1237.4 1078.9 1237.1 1081.4 1236.8 1083.9 1236.5 1086.3 1236.2 1088.8 1235.9 1091.3 1235.6 1093.8 1235.3 1096.3 1235.0 1098.8 1234.7 1101.3 1234.4 1103.7 1234.1 1106.2 1233.9 1108.7 1233.6 1111.2 1233.3 1113.7 1233.1 1116.2 1232.8 1118.7 1232.6 1121.2 1232.3 1123.7 1232.1 1126.1 1231.8 1128.6 1231.6 1131.1 1231.4 1133.6 1231.1 1136.1 1230.9 1138.6 1230.7 1141.1 1230.5 1143.6 1230.3 1146.1 1230.0 1148.6 1229.8 1151.1 1229.6 1153.6 1229.4 1156.1 1229.3 1158.5 1229.1 1161.0 1228.9 1163.5 1228.7 1166.0 1228.5 1168.5 1228.4 1171.0 1228.2 1173.5 1228.0 1176.0 1227.9 1178.5 1227.7 1181.0 1227.6 1183.5 1227.4 1186.0 1227.3 1188.5 1227.2 1191.0 1227.0 1193.5 1226.9 1196.0 1226.8 1198.5 1226.7 1201.0 1226.6 1203.5 1226.5 1206.0 1226.4 1208.5 1226.3 1211.0 1226.2 1213.5 1226.1 1216.0 1226.0 1218.5 1225.9 1221.0 1225.8 1223.5 1225.8 1226.0 1225.7 1228.5 1225.6 1231.0 1225.5 1233.5 1225.5 1236.0 1225.4 1238.5 1225.4 1241.0 1225.3 1243.5 1225.3 1246.0 1225.2 1248.5 1225.2 1251.0 1225.1 1253.6 1225.1 1256.1 1225.1 1258.6 1225.0 1261.1 1225.0 1263.6 1225.0 1266.1 1224.9 1268.6 1224.9 1271.1 1224.9 1273.6 1224.9 1276.1 1224.9 1278.6 1224.8 1281.1 1224.8 1283.6 1224.8 1286.1 1224.8 1288.6 1224.8 1291.1 1224.8 1293.6 1224.8 1296.1 1224.8 1298.6 1224.8 1301.1 1224.8 1303.7 1224.8 1306.2 1224.8 1308.7 1224.8 1311.2 1224.8 1313.7 1224.8 1316.2 1224.8 1318.7 1224.8 1321.2 1224.8 1323.7 1224.8 1326.2 1224.8 1328.7 1224.9 1331.2 1224.9 1333.7 1224.9 1336.2 1224.9 1338.7 1224.9 1341.2 1224.9 1343.7 1224.9 1346.2 1224.9 1348.7 1224.9 1351.2 1224.9 1353.7 1225.0 1356.2 1225.0 1358.7 1225.0 1361.2 1225.0 1363.7 1225.0 1366.2 1225.0 1368.7 1225.0 1371.2 1225.0 1373.7 1225.0 1376.2 1225.0 1378.7 1225.0 1381.2 1225.0 1383.7 1225.0 1386.2 1225.0 1388.7 1225.0 1391.2 1225.0 1393.7 1225.0 1396.2 1225.0 1398.7 1225.0 1401.2 1224.9 1403.7 1224.9 1406.2 1224.9 1408.7 1224.8 1411.2 1224.8 1413.7 1224.7 1416.2 1224.6 1418.7 1224.5 1421.2 1224.4 1423.7 1224.3 1426.2 1224.2 1428.7 1224.0 1431.2 1223.8 1433.7 1223.7 1436.2 1223.5 1438.7 1223.3 1441.2 1223.0 1443.7 1222.8 1446.2 1222.5 1448.7 1222.2 1451.2 1221.9 1453.6 1221.5 1456.1 1221.1 1458.6 1220.6 1461.0 1220.1 1463.5 1219.5 1465.9 1218.8 1468.3 1218.1 1470.7 1217.3 1473.1 1216.4 1475.5 1215.4 1477.8 1214.4 1480.2 1213.2 1482.5 1211.9 1484.8 1210.5 1486.9 1209.0 1488.8 1207.4 1490.2 1205.7 1490.8 1203.9 1490.5 1202.0 1489.3 1200.1 1487.6 1198.5 1485.4 1197.2 1483.0 1196.2 1480.4 1195.5 1477.6 1195.0 1474.9 1194.6 1472.2 1194.4 1469.6 1194.2 1467.0 1194.1 1464.5 1194.1 1461.9 1194.1 1459.5 1194.2 1457.0 1194.2 1454.5 1194.3 1452.1 1194.3 1449.6 1194.4 1447.2 1194.4 1444.7 1194.3 1442.2 1194.3 1439.8 1194.2 1437.3 1194.1 1434.8 1194.0 1432.3 1193.9 1429.9 1193.8 1427.4 1193.6 1424.9 1193.5 1422.4 1193.3 1419.9 1193.1 1417.5 1192.9 1415.0 1192.6 1412.5 1192.4 1410.0 1192.1 1407.5 1191.9 1405.0 1191.6 1402.5 1191.3 1400.0 1191.1 1397.5 1190.8 1395.0 1190.5 1392.5 1190.2 1390.1 1189.9 1387.6 1189.5 1385.1 1189.2 1382.6 1188.9 1380.1 1188.6 1377.6 1188.3 1375.1 1188.0 1372.6 1187.6 1370.1 1187.3 1367.6 1187.0 1365.1 1186.7 1362.6 1186.3 1360.2 1186.0 1357.7 1185.7 1355.2 1185.4 1352.7 1185.0 1350.2 1184.7 1347.7 1184.4 1345.2 1184.0 1342.7 1183.7 1340.3 1183.4 1337.8 1183.1 1335.3 1182.7 1332.8 1182.4 1330.3 1182.0 1327.8 1181.7 1325.4 1181.4 1322.9 1181.0 1320.4 1180.7 1317.9 1180.4 1315.4 1180.0 1313.0 1179.7 1310.5 1179.3 1308.0 1179.0 1305.5 1178.6 1303.0 1178.3 1300.6 1177.9 1298.1 1177.6 1295.6 1177.2 1293.1 1176.9 1290.7 1176.5 1288.2 1176.2 1285.7 1175.8 1283.2 1175.5 1280.7 1175.1 1278.3 1174.8 1275.8 1174.4 1273.3 1174.0 1270.8 1173.7 1268.4 1173.3 1265.9 1172.9 1263.4 1172.6 1261.0 1172.2 1258.5 1171.8 1256.0 1171.5 1253.5 1171.1 1251.1 1170.7 1248.6 1170.3 1246.1 1170.0 1243.6 1169.6 1241.2 1169.2 1238.7 1168.8 1236.2 1168.4 1233.8 1168.1 1231.3 1167.7 1228.8 1167.3 1226.4 1166.9 1223.9 1166.5 1221.4 1166.1 1218.9 1165.7 1216.5 1165.3 1214.0 1164.9 1211.5 1164.5 1209.1 1164.1 1206.6 1163.7 1204.1 1163.3 1201.7 1162.9 1199.2 1162.5 1196.7 1162.1 1194.3 1161.7 1191.8 1161.3 1189.3 1160.9 1186.9 1160.4 1184.4 1160.0 1181.9 1159.6 1179.5 1159.1 1177.0 1158.7 1174.6 1158.3 1172.1 1157.8 1169.6 1157.4 1167.2 1156.9 1164.7 1156.4 1162.3 1156.0 1159.8 1155.5 1157.4 1155.0 1154.9 1154.6 1152.4 1154.1 1150.0 1153.6 1147.5 1153.1 1145.1 1152.6 1142.6 1152.1 1140.2 1151.6 1137.7 1151.1 1135.3 1150.5 1132.9 1150.0 1130.4 1149.5 1128.0 1148.9 1125.5 1148.4 1123.1 1147.8 1120.6 1147.2 1118.2 1146.7 1115.8 1146.1 1113.3 1145.5 1110.9 1144.9 1108.5 1144.3 1106.1 1143.7 1103.6 1143.1 1101.2 1142.4 1098.8 1141.8 1096.4 1141.2 1093.9 1140.5 1091.5 1139.8 1089.1 1139.2 1086.7 1138.5 1084.3 1137.8 1081.9 1137.1 1079.5 1136.4 1077.1 1135.7 1074.6 1134.9 1072.2 1134.2 1069.8 1133.4 1067.5 1132.7 1065.1 1131.9 1062.7 1131.0 1060.4 1130.1 1058.0 1129.2 1055.7 1128.2 1053.4 1127.2 1051.2 1126.0 1049.0 1124.8 1046.8 1123.5 1044.7 1122.1 1042.6 1120.6 1040.5 1118.9 1038.6 1117.2 1036.8 1115.4 1035.5 1113.4 1034.8 1111.4 1034.8 1109.3 1035.5 1107.1 1036.9 1105.0 1038.7 1102.9 1040.7 1101.1 1042.8 1099.4 1045.0 1097.9 1047.2 1096.5 1049.4 1095.4 1051.7 1094.4 1054.1 1093.5 1056.4 1092.7 1058.8 1092.0 1061.3 1091.4 1063.7 1090.9 1066.2 1090.5 1068.6 1090.0 1071.1 1089.6 1073.6 1089.3 1076.1 1088.9 1078.6 1088.5 1081.0 1088.0 1083.5 1087.6 1086.0 1087.1 1088.4 1086.7 1090.9 1086.2 1093.4 1085.7 1095.8 1085.2 1098.3 1084.8 1100.7 1084.3 1103.2 1083.8 1105.6 1083.3 1108.1 1082.8 1110.5 1082.4 1113.0 1081.9 1115.5 1081.5 1117.9 1081.0 1120.4 1080.6 1122.9 1080.2 1125.3 1079.9 1127.8 1079.5 1130.3 1079.2 1132.8 1078.9 1135.3 1078.6 1137.8 1078.4 1140.3 1078.1 1142.8 1077.9 1145.3 1077.7 1147.8 1077.6 1150.3 1077.4 1152.8 1077.3 1155.3 1077.2 1157.8 1077.2 1160.3 1077.1 1162.8 1077.1 1165.3 1077.1 1167.9 1077.2 1170.4 1077.3 1172.9 1077.4 1175.4 1077.5 1177.9 1077.7 1180.4 1077.8 1182.8 1078.1 1185.3 1078.3 1187.8 1078.6 1190.3 1078.9 1192.8 1079.2 1195.2 1079.6 1197.7 1080.0 1200.2 1080.4 1202.6 1080.8 1205.1 1081.3 1207.5 1081.8 1210.0 1082.3 1212.4 1082.8 1214.9 1083.3 1217.3 1083.9 1219.7 1084.5 1222.2 1085.1 1224.6 1085.7 1227.0 1086.3 1229.4 1086.9 1231.9 1087.5 1234.3 1088.2 1236.7 1088.8 1239.1 1089.4 1241.6 1090.1 1244.0 1090.7 1246.4 1091.4 1248.8 1092.0 1251.3 1092.7 1253.7 1093.3 1256.1 1093.9 1258.5 1094.6 1261.0 1095.2 1263.4 1095.8 1265.8 1096.4 1268.3 1097.0 1270.7 1097.5 1273.2 1098.1 1275.6 1098.6 1278.1 1099.1 1280.5 1099.6 1283.0 1100.1 1285.4 1100.5 1287.9 1100.9 1290.4 1101.3 1292.9 1101.7 1295.4 1102.0 1297.9 1102.4 1300.4 1102.6 1302.9 1102.9 1305.4 1103.1 1307.9 1103.3 1310.4 1103.4 1312.9 1103.5 1315.4 1103.6 1318.0 1103.6 1320.5 1103.6 1323.0 1103.5 1325.5 1103.4 1328.0 1103.3 1330.6 1103.1 1333.1 1102.9 1335.5 1102.6 1338.0 1102.3 1340.5 1101.9 1343.0 1101.5 1345.4 1101.0 1347.9 1100.5 1350.3 1099.9 1352.7 1099.3 1355.1 1098.6 1357.5 1097.9 1359.8 1097.1 1362.2 1096.2 1364.5 1095.3 1366.8 1094.4 1369.1 1093.4 1371.3 1092.3 1373.6 1091.3 1375.8 1090.1 1378.0 1089.0 1380.2 1087.8 1382.4 1086.6 1384.6 1085.3 1386.8 1084.1 1389.0 1082.8 1391.1 1081.4 1393.2 1080.0 1395.1 1078.5 1397.0 1077.0 1398.8 1075.3 1400.5 1073.5 1401.9 1071.5 1403.2 1069.4 1404.3 1067.1 1405.2 1064.8 1405.9 1062.3 1406.3 1059.7 1406.4 1057.1 1406.3 1054.4 1405.8 1051.9 1404.9 1049.7 1403.6 1047.9 1401.8 1046.8 1399.6 1046.3 1397.0 1046.3 1394.3 1046.7 1391.7 1047.3 1389.1 1047.9 1386.7 1048.7 1384.3 1049.5 1382.0 1050.3 1379.6 1051.1 1377.1 1051.8 1374.4 1052.6 1371.7 1053.4 1369.1 1054.3 1366.8 1055.4 1364.9 1056.7 1363.6 1058.5 1363.0 1060.5 1363.1 1062.6 1364.1 1064.7 1365.7 1066.7 1367.6 1068.5 1369.8 1070.0 1372.1 1071.1 1374.4 1072.1 1376.8 1072.8 1379.3 1073.4 1381.8 1074.0 1384.2 1074.5 1386.7 1075.0 1389.2 1075.5 1391.6 1076.0 1394.1 1076.4 1396.6 1076.8 1399.0 1077.2 1401.5 1077.6 1404.0 1078.0 1406.5 1078.3 1409.0 1078.7 1411.5 1079.0 1413.9 1079.3 1416.4 1079.6 1418.9 1079.9 1421.4 1080.2 1423.9 1080.5 1426.4 1080.7 1428.9 1081.0 1431.3 1081.3 1433.8 1081.5 1436.3 1081.8 1438.8 1082.0 1441.3 1082.3 1443.8 1082.5 1446.3 1082.8 1448.8 1083.0 1451.3 1083.3 1453.7 1083.5 1456.2 1083.7 1458.7 1084.0 1461.2 1084.2 1463.7 1084.5 1466.2 1084.7 1468.7 1085.0 1471.2 1085.2 1473.7 1085.4 1476.1 1085.7 1478.6 1085.9 1481.1 1086.2 1483.6 1086.4 1486.1 1086.6 1488.6 1086.9 1491.1 1087.1 1493.6 1087.3 1496.1 1087.6 1498.6 1087.8 1501.1 1088.0 1503.5 1088.3 1506.0 1088.5 1508.5 1088.7 1511.0 1089.0 1513.5 1089.2 1516.0 1089.4 1518.5 1089.7 1521.0 1089.9 1523.5 1090.1 1526.0 1090.3 1528.5 1090.6 1531.0 1090.8 1533.5 1091.0 1535.9 1091.2 1538.4 1091.5 1540.9 1091.7 1543.4 1091.9 1545.9 1092.1 1548.4 1092.3 1550.9 1092.6 1553.4 1092.8 1555.9 1093.0 1558.4 1093.2 1560.9 1093.4 1563.4 1093.6 1565.9 1093.9 1568.4 1094.1 1570.8 1094.3 1573.3 1094.5 1575.8 1094.7 1578.3 1094.9 1580.8 1095.1 1583.3 1095.3 1585.8 1095.6 1588.3 1095.8 1590.8 1096.0 1593.3 1096.2 1595.8 1096.4 1598.3 1096.6 1600.8 1096.8 1603.3 1097.0 1605.8 1097.2 1608.3 1097.4 1610.8 1097.6 1613.3 1097.8 1615.7 1098.0 1618.2 1098.2 1620.7 1098.4 1623.2 1098.6 1625.7 1098.8 1628.2 1099.0 1630.7 1099.2 1633.2 1099.4 1635.7 1099.6 1638.2 1099.8 1640.7 1100.0 1643.2 1100.2 1645.7 1100.4 1648.2 1100.6 1650.7 1100.8 1653.2 1101.0 1655.7 1101.2 1658.2 1101.4 1660.7 1101.6 1663.2 1101.8 1665.7 1102.0 1668.2 1102.2 1670.7 1102.4 1673.2 1102.6 1675.6 1102.7 1678.1 1102.9 1680.6 1103.1 1683.1 1103.3 1685.6 1103.5 1688.1 1103.7 1690.6 1103.9 1693.1 1104.1 1695.6 1104.2 1698.1 1104.4 1700.6 1104.6 1703.1 1104.8 1705.6 1105.0 1708.1 1105.2 1710.6 1105.4 1713.1 1105.5 1715.6 1105.7 1718.1 1105.9 1720.6 1106.1 1723.1 1106.3 1725.6 1106.4 1728.1 1106.6 1730.6 1106.8 1733.1 1107.0 1735.6 1107.2 1738.1 1107.3 1740.6 1107.5 1743.1 1107.7 1745.6 1107.9 1748.1 1108.1 1750.6 1108.2 1753.1 1108.4 1755.6 1108.6 1758.1 1108.8 1760.5 1109.0 1763.0 1109.1 1765.5 1109.3 1768.0 1109.5 1770.5 1109.7 1773.0 1109.9 1775.5 1110.1 1778.0 1110.2 1780.5 1110.4 1783.0 1110.6 1785.5 1110.8 1788.0 1111.0 1790.5 1111.2 1793.0 1111.4 1795.5 1111.6 1798.0 1111.8 1800.5 1112.0 1803.0 1112.2 1805.5 1112.4 1808.0 1112.6 1810.5 1112.8 1813.0 1113.0 1815.5 1113.2 1817.9 1113.4 1820.4 1113.6 1822.9 1113.9 1825.4 1114.1 1827.9 1114.3 1830.4 1114.5 1832.9 1114.8 1835.4 1115.0 1837.9 1115.2 1840.4 1115.5 1842.9 1115.7 1845.4 1116.0 1847.8 1116.2 1850.3 1116.5 1852.8 1116.7 1855.3 1117.0 1857.8 1117.2 1860.3 1117.5 1862.8 1117.8 1865.3 1118.0 1867.7 1118.3 1870.2 1118.6 1872.7 1118.9 1875.2 1119.2 1877.7 1119.5 1880.2 1119.8 1882.6 1120.1 1885.1 1120.4 1887.6 1120.7 1890.1 1121.0 1892.6 1121.3 1895.1 1121.7 1897.5 1122.0 1900.0 1122.3 1902.5 1122.7 1905.0 1123.0 1907.4 1123.4 1909.9 1123.7 1912.4 1124.1 1914.9 1124.5 1917.4 1124.8 1919.8 1125.2 1922.3 1125.6 1924.8 1126.0 1927.2 1126.4 1929.7 1126.8 1932.2 1127.2 1934.7 1127.6 1937.1 1128.0 1939.6 1128.5 1942.1 1128.9 1944.5 1129.4 1947.0 1129.8L1980.7 1155.8L1994.5 1155.8L2006.7 1122.9L2007.2 1120.4 2007.7 1118.0 2008.2 1115.5 2008.7 1113.1 2009.2 1110.6 2009.7 1108.1 2010.2 1105.7 2010.7 1103.2 2011.2 1100.8 2011.7 1098.3 2012.1 1095.8 2012.6 1093.4 2013.1 1090.9 2013.6 1088.4 2014.0 1086.0 2014.5 1083.5 2014.9 1081.0 2015.4 1078.6 2015.9 1076.1 2016.3 1073.6 2016.8 1071.2 2017.2 1068.7 2017.7 1066.2 2018.1 1063.7 2018.5 1061.3 2019.0 1058.8 2019.4 1056.3 2019.8 1053.9 2020.3 1051.4 2020.7 1048.9 2021.1 1046.4 2021.5 1044.0 2022.0 1041.5 2022.4 1039.0 2022.8 1036.5 2023.2 1034.1 2023.6 1031.6 2024.0 1029.1 2024.4 1026.6 2024.9 1024.1 2025.3 1021.7 2025.7 1019.2 2026.1 1016.7 2026.5 1014.2 2026.9 1011.8 2027.3 1009.3 2027.7 1006.8 2028.1 1004.3 2028.5 1001.8 2028.9 999.4 2029.2 996.9 2029.6 994.4 2030.0 991.9 2030.4 989.4 2030.8 987.0 2031.2 984.5 2031.6 982.0 2032.0 979.5 2032.3 977.0 2032.7 974.5 2033.1 972.1 2033.5 969.6 2033.9 967.1 2034.3 964.6 2034.6 962.1 2035.0 959.7 2035.4 957.2 2035.8 954.7 2036.2 952.2 2036.5 949.7 2036.9 947.2 2037.3 944.8 2037.7 942.3 2038.0 939.8 2038.4 937.3 2038.8 934.8 2039.2 932.4 2039.6 929.9 2039.9 927.4 2040.3 924.9 2040.7 922.4 2041.1 919.9 2041.5 917.5 2041.8 915.0 2042.2 912.5 2042.6 910.0 2043.0 907.5 2043.4 905.1 2043.7 902.6 2044.1 900.1 2044.5 897.6 2044.9 895.1 2045.3 892.7 2045.7 890.2 2046.0 887.7 2046.4 885.2 2046.8 882.7 2047.2 880.3 2047.6 877.8 2048.0 875.3 2048.3 872.8 2048.7 870.3 2049.1 867.9 2049.5 865.4 2049.9 862.9 2050.2 860.4 2050.6 857.9 2051.0 855.5 2051.4 853.0 2051.7 850.5 2052.1 848.0 2052.5 845.5 2052.8 843.0 2053.2 840.6 2053.6 838.1 2053.9 835.6 2054.3 833.1 2054.7 830.6 2055.0 828.1 2055.4 825.7 2055.7 823.2 2056.1 820.7 2056.4 818.2 2056.8 815.7 2057.1 813.2 2057.5 810.7 2057.8 808.3 2058.1 805.8 2058.5 803.3 2058.8 800.8 2059.1 798.3 2059.4 795.8 2059.8 793.3 2060.1 790.8 2060.4 788.3 2060.7 785.8 2061.1 783.4 2061.4 780.9 2061.7 778.4 2062.0 775.9 2062.4 773.4 2062.7 770.9 2063.0 768.4 2063.4 765.9 2063.7 763.4 2064.1 761.0 2064.4 758.5 2064.8 756.0 2065.1 753.5 2065.5 751.0 2065.8 748.5 2066.2 746.0 2066.6 743.6 2067.0 741.1 2067.4 738.6 2067.8 736.1 2068.2 733.6 2068.6 731.2 2069.0 728.7 2069.4 726.2 2069.8 723.7 2070.2 721.3 2070.6 718.8 2071.0 716.3 2071.4 713.8 2071.9 711.3 2072.3 708.9 2072.7 706.4 2073.1 703.9 2073.6 701.4 2074.0 699.0 2074.4 696.5 2074.9 694.0 2075.3 691.6 2075.7 689.1 2076.2 686.6 2076.6 684.1 2077.0 681.7 2077.5 679.2 2077.9 676.7 2078.3 674.2 2078.8 671.8 2079.2 669.3 2079.6 666.8 2080.0 664.3 2080.5 661.9 2080.9 659.4 2081.3 656.9 2081.7 654.4 2082.1 652.0 2082.6 649.5 2083.0 647.0 2083.4 644.5 2083.8 642.1 2084.2 639.6 2084.6 637.1 2085.0 634.6 2085.3 632.1 2085.7 629.7 2086.1 627.2 2086.5 624.7 2086.9 622.2 2087.2 619.7 2087.6 617.3 2088.0 614.8 2088.3 612.3 2088.7 609.8 2089.0 607.3 2089.3 604.8 2089.7 602.3 2090.0 599.9 2090.4 597.4 2090.7 594.9 2091.0 592.4 2091.3 589.9 2091.6 587.4 2091.9 584.9 2092.2 582.4 2092.5 579.9 2092.8 577.4 2093.1 574.9 2093.4 572.5 2093.6 570.0 2093.9 567.5 2094.2 565.0 2094.4 562.5 2094.7 560.0 2095.0 557.5 2095.2 555.0 2095.5 552.5 2095.8 550.0 2096.0 547.5 2096.3 545.0 2096.5 542.5 2096.8 540.0 2097.1 537.5 2097.3 535.0 2097.6 532.5 2097.8 530.0 2098.1 527.5 2098.4 525.0 2098.7 522.5 2098.9 520.0 2099.2 517.5 2099.5 515.0 2099.8 512.6 2100.1 510.1 2100.4 507.6 2100.7 505.1 2101.0 502.6 2101.4 500.1 2101.7 497.6 2102.0 495.1 2102.4 492.7 2102.7 490.2 2103.1 487.7 2103.5 485.2 2103.8 482.7 2104.2 480.2 2104.6 477.8 2105.0 475.3 2105.4 472.8 2105.9 470.3 2106.3 467.9 2106.7 465.4 2107.2 462.9 2107.6 460.5 2108.1 458.0 2108.5 455.5 2109.0 453.0 2109.5 450.6 2110.0 448.1 2110.5 445.7 2111.0 443.2 2111.5 440.7 2112.0 438.3 2112.5 435.8M2112.5 435.8L2112.1 438.3 2111.6 440.8 2111.2 443.3 2110.8 445.9 2110.4 448.4 2110.0 450.9 2109.5 453.4 2109.1 455.9 2108.7 458.4 2108.3 461.0 2107.9 463.5 2107.5 466.0 2107.0 468.5 2106.6 471.0 2106.2 473.5 2105.8 476.1 2105.4 478.6 2105.0 481.1 2104.6 483.6 2104.2 486.1 2103.7 488.7 2103.3 491.2 2102.9 493.7 2102.5 496.2 2102.1 498.7 2101.7 501.2 2101.2 503.8 2100.8 506.3 2100.4 508.8 2100.0 511.3 2099.5 513.8 2099.1 516.3 2098.7 518.8 2098.2 521.4 2097.8 523.9 2097.4 526.4 2096.9 528.9 2096.5 531.4 2096.0 533.9 2095.6 536.4 2095.1 538.9 2094.7 541.4 2094.2 544.0 2093.8 546.5 2093.3 549.0 2092.8 551.5 2092.3 554.0 2091.9 556.5 2091.4 559.0 2090.9 561.5 2090.4 564.0 2089.9 566.5 2089.4 569.0 2088.9 571.5 2088.4 574.0 2087.9 576.5 2087.3 579.0 2086.8 581.5"/>
<path d="M945.3 1899.6L944.9 1897.1 944.5 1894.6 944.1 1892.1 943.7 1889.6 943.3 1887.1 942.9 1884.6 942.5 1882.2 942.1 1879.7 941.7 1877.2 941.3 1874.7 940.9 1872.2 940.5 1869.7 940.1 1867.2 939.7 1864.7 939.3 1862.2 939.0 1859.7 938.6 1857.2 938.3 1854.8 938.0 1852.3 937.7 1849.8 937.4 1847.3 937.1 1844.8 936.8 1842.3 936.6 1839.8 936.4 1837.3 936.2 1834.8 936.0 1832.3 935.8 1829.7 935.7 1827.2 935.6 1824.7 935.6 1822.2 935.5 1819.7 935.5 1817.2 935.5 1814.7 935.6 1812.1 935.7 1809.6 935.8 1807.1 935.9 1804.6 936.1 1802.0 936.3 1799.5 936.6 1797.0 936.9 1794.5 937.2 1791.9 937.5 1789.4 937.9 1786.9 938.3 1784.4 938.8 1781.9 939.3 1779.4 939.8 1777.0 940.3 1774.5 940.9 1772.0 941.5 1769.6 942.2 1767.1 942.8 1764.7 943.6 1762.3 944.3 1759.9 945.1 1757.5 945.9 1755.1 946.8 1752.7 947.7 1750.4 948.6 1748.0 949.6 1745.7 950.6 1743.4 951.6 1741.1 952.7 1738.8 953.7 1736.6 954.9 1734.3 956.0 1732.1 957.2 1729.9 958.4 1727.7 959.7 1725.5 961.0 1723.3 962.3 1721.2 963.6 1719.1 965.0 1717.0 966.4 1714.9 967.8 1712.8 969.3 1710.7 970.7 1708.7 972.2 1706.7 973.8 1704.7 975.3 1702.7 976.9 1700.7 978.5 1698.8 980.1 1696.8 981.8 1694.9 983.5 1693.0 985.2 1691.2 986.9 1689.3 988.6 1687.5 990.4 1685.6 992.1 1683.8 993.9 1682.0 995.7 1680.2 997.5 1678.4 999.4 1676.6 1001.2 1674.8 1003.0 1673.1 1004.8 1671.3 1006.7 1669.5 1008.5 1667.7 1010.3 1666.0 1012.2 1664.2 1013.9 1662.3 1015.7 1660.5 1017.3 1658.6 1018.9 1656.7 1020.3 1654.7 1021.5 1652.7 1022.6 1650.5 1023.4 1648.3 1024.1 1645.9 1024.4 1643.5 1024.5 1640.9L1022.7 1639.0 1020.8 1637.2 1018.8 1635.6 1016.8 1634.0 1014.7 1632.6 1012.5 1631.2 1010.3 1629.9 1008.0 1628.7 1005.7 1627.5 1003.3 1626.4 1000.9 1625.4 998.5 1624.3 996.1 1623.3 993.7 1622.3 991.3 1621.3 988.8 1620.3 986.4 1619.2 984.0 1618.1 981.6 1617.0 979.3 1615.9 977.0 1614.6 974.7 1613.3 972.5 1612.0 970.3 1610.6 968.1 1609.2 965.9 1607.7 963.8 1606.3 961.6 1604.8 959.5 1603.3 957.3 1601.8 955.2 1600.3 953.0 1598.9L955.3 1600.5 957.7 1602.0 960.1 1603.4 962.6 1604.8 965.1 1606.0 967.6 1607.3 970.2 1608.4 972.8 1609.5 975.4 1610.5L977.9 1609.6 980.2 1608.5 982.4 1607.3 984.5 1605.9 986.4 1604.4 988.4 1602.8 990.2 1601.0 992.0 1599.2 993.7 1597.4 995.5 1595.5 997.2 1593.7 998.9 1591.8 1000.6 1589.9 1002.4 1588.1 1004.2 1586.3 1006.1 1584.6 1007.9 1583.0 1009.9 1581.3 1011.8 1579.8 1013.8 1578.2 1015.8 1576.8 1017.8 1575.3 1019.9 1573.9 1022.0 1572.6 1024.1 1571.2 1026.2 1570.0 1028.4 1568.7 1030.6 1567.5 1032.8 1566.4 1035.0 1565.2 1037.3 1564.1 1039.5 1563.1 1041.8 1562.0 1044.1 1561.0 1046.4 1560.1 1048.7 1559.1 1051.1 1558.2 1053.4 1557.3 1055.8 1556.5 1058.1 1555.6 1060.5 1554.8 1062.9 1554.0 1065.2 1553.3 1067.6 1552.5 1070.0 1551.8 1072.4 1551.1 1074.8 1550.4 1077.2 1549.8 1079.6 1549.1 1082.1 1548.5 1084.5 1547.9 1086.9 1547.3 1089.3 1546.8 1091.8 1546.2 1094.2 1545.7 1096.7 1545.2 1099.1 1544.7 1101.6 1544.2 1104.0 1543.7 1106.5 1543.3 1109.0 1542.8 1111.4 1542.4 1113.9 1542.0 1116.4 1541.6 1118.9 1541.2 1121.3 1540.8 1123.8 1540.4 1126.3 1540.1 1128.8 1539.7 1131.3 1539.4 1133.8 1539.1 1136.3 1538.7 1138.7 1538.4 1141.2 1538.1 1143.7 1537.8 1146.2 1537.5 1148.7 1537.2 1151.2 1537.0 1153.7 1536.7 1156.2 1536.4 1158.7 1536.1 1161.2 1535.9 1163.7 1535.6 1166.2 1535.3 1168.7 1535.1 1171.2 1534.8 1173.7 1534.6 1176.2 1534.3 1178.7 1534.1 1181.2 1533.8 1183.7 1533.6 1186.2 1533.3 1188.7 1533.1 1191.2 1532.9 1193.7 1532.6 1196.2 1532.4 1198.7 1532.2 1201.2 1532.0 1203.7 1531.7 1206.2 1531.5 1208.7 1531.3 1211.2 1531.1 1213.7 1530.9 1216.2 1530.7 1218.7 1530.5 1221.2 1530.3 1223.7 1530.1 1226.2 1529.9 1228.7 1529.7 1231.2 1529.5 1233.7 1529.3 1236.2 1529.2 1238.7 1529.0 1241.2 1528.8 1243.7 1528.6 1246.1 1528.5 1248.6 1528.3 1251.1 1528.1 1253.6 1528.0 1256.1 1527.8 1258.6 1527.7 1261.1 1527.5 1263.6 1527.3 1266.1 1527.2 1268.6 1527.1 1271.1 1526.9 1273.6 1526.8 1276.1 1526.6 1278.6 1526.5 1281.1 1526.4 1283.6 1526.2 1286.1 1526.1 1288.6 1526.0 1291.1 1525.9 1293.6 1525.8 1296.1 1525.6 1298.6 1525.5 1301.1 1525.4 1303.6 1525.3 1306.1 1525.2 1308.6 1525.1 1311.1 1525.0 1313.6 1524.9 1316.1 1524.8 1318.6 1524.8 1321.1 1524.7 1323.6 1524.6 1326.1 1524.5 1328.6 1524.4 1331.1 1524.3 1333.6 1524.3 1336.1 1524.2 1338.6 1524.1 1341.1 1524.1 1343.6 1524.0 1346.1 1524.0 1348.6 1523.9 1351.1 1523.9 1353.6 1523.8 1356.1 1523.8 1358.6 1523.7 1361.1 1523.7 1363.6 1523.6 1366.1 1523.6 1368.6 1523.6 1371.1 1523.5 1373.6 1523.5 1376.1 1523.5 1378.6 1523.5 1381.1 1523.4 1383.6 1523.4 1386.1 1523.4 1388.6 1523.4 1391.1 1523.4 1393.6 1523.4 1396.1 1523.4 1398.6 1523.4 1401.1 1523.4 1403.6 1523.4 1406.1 1523.4 1408.6 1523.4 1411.1 1523.4 1413.6 1523.4 1416.1 1523.4 1418.6 1523.4 1421.1 1523.5 1423.7 1523.5 1426.2 1523.5 1428.7 1523.5 1431.2 1523.6 1433.7 1523.6 1436.2 1523.6 1438.7 1523.7 1441.2 1523.7 1443.7 1523.7 1446.2 1523.8 1448.7 1523.8 1451.2 1523.9 1453.7 1523.9 1456.2 1524.0 1458.7 1524.0 1461.2 1524.1 1463.7 1524.1 1466.2 1524.2 1468.7 1524.3 1471.2 1524.3 1473.7 1524.4 1476.2 1524.5 1478.7 1524.5 1481.2 1524.6 1483.7 1524.7 1486.3 1524.8 1488.8 1524.8 1491.3 1524.9 1493.8 1525.0 1496.3 1525.1 1498.8 1525.2 1501.3 1525.3 1503.8 1525.3 1506.3 1525.4 1508.8 1525.5 1511.3 1525.6 1513.8 1525.7 1516.3 1525.8 1518.8 1525.9 1521.3 1526.0 1523.8 1526.1 1526.3 1526.2 1528.8 1526.4 1531.3 1526.5 1533.8 1526.6 1536.3 1526.7 1538.8 1526.8 1541.3 1526.9 1543.8 1527.0 1546.3 1527.2 1548.8 1527.3 1551.3 1527.4 1553.8 1527.5 1556.3 1527.7 1558.9 1527.8 1561.4 1527.9 1563.9 1528.0 1566.4 1528.2 1568.9 1528.3 1571.4 1528.5 1573.9 1528.6 1576.4 1528.7 1578.9 1528.9 1581.4 1529.0 1583.9 1529.2 1586.4 1529.3 1588.9 1529.4 1591.4 1529.6 1593.9 1529.7 1596.4 1529.9 1598.9 1530.0 1601.4 1530.2 1603.9 1530.4 1606.4 1530.5 1608.9 1530.7 1611.4 1530.8 1613.9 1531.0 1616.4 1531.2 1618.9 1531.3 1621.4 1531.5 1623.9 1531.6 1626.4 1531.8 1628.9 1532.0 1631.4 1532.1 1633.9 1532.3 1636.4 1532.5 1638.9 1532.7 1641.4 1532.8 1643.9 1533.0 1646.4 1533.2 1648.8 1533.4 1651.3 1533.5 1653.8 1533.7 1656.3 1533.9 1658.8 1534.1 1661.3 1534.3 1663.8 1534.4 1666.3 1534.6 1668.8 1534.8 1671.3 1535.0 1673.8 1535.2 1676.3 1535.4 1678.8 1535.6 1681.3 1535.7 1683.8 1535.9 1686.3 1536.1 1688.8 1536.3 1691.3 1536.5 1693.8 1536.6 1696.3 1536.8 1698.8 1536.9 1701.2 1537.0 1703.7 1537.2 1706.2 1537.3 1708.7 1537.4 1711.2 1537.5 1713.7 1537.5 1716.2 1537.6 1718.7 1537.6 1721.2 1537.6 1723.7 1537.6 1726.2 1537.6 1728.8 1537.5 1731.3 1537.5 1733.8 1537.4 1736.3 1537.2 1738.8 1537.1 1741.3 1536.9 1743.8 1536.7 1746.3 1536.4 1748.8 1536.0 1751.2 1535.6 1753.7 1535.1 1756.1 1534.6 1758.6 1533.9 1761.0 1533.2 1763.3 1532.4 1765.7 1531.4 1768.0 1530.4 1770.3 1529.2 1772.6 1527.9 1774.8 1526.5 1777.0 1525.0 1778.9 1523.2 1780.3 1521.3 1781.0 1519.2 1780.7 1517.0 1779.7 1514.7 1778.2 1512.7 1776.4 1511.0 1774.4 1509.7 1772.1 1508.6 1769.6 1507.7 1767.0 1506.9 1764.4 1506.3 1761.8 1505.7 1759.2 1505.2 1756.6 1504.7 1754.1 1504.2 1751.6 1503.7 1749.1 1503.3 1746.7 1502.8 1744.2 1502.4 1741.8 1502.0 1739.4 1501.7 1736.9 1501.3 1734.5 1501.0 1732.0 1500.7 1729.6 1500.4 1727.1 1500.1 1724.7 1499.8 1722.2 1499.6 1719.7 1499.3 1717.3 1499.1 1714.8 1498.9 1712.3 1498.7 1709.8 1498.5 1707.4 1498.3 1704.9 1498.2 1702.4 1498.1 1699.9 1497.9 1697.4 1497.8 1694.9 1497.7 1692.4 1497.6 1689.9 1497.5 1687.4 1497.5 1684.9 1497.4 1682.4 1497.4 1679.9 1497.3 1677.3 1497.3 1674.8 1497.3 1672.3 1497.3 1669.8 1497.2 1667.3 1497.3 1664.8 1497.3 1662.3 1497.3 1659.7 1497.3 1657.2 1497.3 1654.7 1497.4 1652.2 1497.4 1649.7 1497.5 1647.1 1497.5 1644.6 1497.6 1642.1 1497.6 1639.6 1497.7 1637.1 1497.8 1634.5 1497.9 1632.0 1497.9 1629.5 1498.0 1627.0 1498.1 1624.5 1498.1 1622.0 1498.2 1619.5 1498.2 1616.9 1498.3 1614.4 1498.3 1611.9 1498.3 1609.4 1498.3 1606.9 1498.3 1604.4 1498.2 1601.9 1498.1 1599.4 1498.1 1596.9 1497.9 1594.5 1497.8 1592.0 1497.6 1589.5 1497.5 1587.0 1497.3 1584.5 1497.0 1582.0 1496.8 1579.6 1496.5 1577.1 1496.2 1574.6 1495.9 1572.2 1495.6 1569.7 1495.3 1567.2 1494.9 1564.7 1494.6 1562.3 1494.2 1559.8 1493.8 1557.4 1493.5 1554.9 1493.1 1552.4 1492.7 1550.0 1492.2 1547.5 1491.8 1545.0 1491.4 1542.6 1491.0 1540.1 1490.6 1537.6 1490.2 1535.2 1489.8 1532.7 1489.3 1530.2 1488.9 1527.8 1488.5 1525.3 1488.1 1522.8 1487.7 1520.3 1487.3 1517.9 1486.9 1515.4 1486.5 1512.9 1486.2 1510.4 1485.8 1508.0 1485.4 1505.5 1485.0 1503.0 1484.7 1500.5 1484.3 1498.0 1484.0 1495.5 1483.6 1493.1 1483.2 1490.6 1482.9 1488.1 1482.5 1485.6 1482.2 1483.1 1481.9 1480.6 1481.5 1478.1 1481.2 1475.6 1480.8 1473.2 1480.5 1470.7 1480.2 1468.2 1479.8 1465.7 1479.5 1463.2 1479.2 1460.7 1478.9 1458.2 1478.5 1455.7 1478.2 1453.2 1477.9 1450.7 1477.6 1448.2 1477.2 1445.8 1476.9 1443.3 1476.6 1440.8 1476.2 1438.3 1475.9 1435.8 1475.6 1433.3 1475.3 1430.8 1474.9 1428.3 1474.6 1425.8 1474.3 1423.3 1473.9 1420.8 1473.6 1418.4 1473.3 1415.9 1472.9 1413.4 1472.6 1410.9 1472.2 1408.4 1471.9 1405.9 1471.5 1403.4 1471.2 1400.9 1470.8 1398.5 1470.5 1396.0 1470.1 1393.5 1469.7 1391.0 1469.4 1388.5 1469.0 1386.1 1468.6 1383.6 1468.2 1381.1 1467.8 1378.6 1467.4 1376.2 1467.1 1373.7 1466.7 1371.2 1466.2 1368.7 1465.8 1366.3 1465.4 1363.8 1465.0 1361.3 1464.6 1358.9 1464.1 1356.4 1463.7 1354.0 1463.2 1351.5 1462.8 1349.0 1462.3 1346.6 1461.9 1344.1 1461.4 1341.7 1460.9 1339.2 1460.4 1336.8 1459.9 1334.3 1459.4 1331.9 1458.9 1329.4 1458.4 1327.0 1457.9 1324.6 1457.3 1322.1 1456.8 1319.7 1456.3 1317.3 1455.7 1314.8 1455.1 1312.4 1454.6 1310.0 1454.0 1307.6 1453.4 1305.1 1452.8 1302.7 1452.2 1300.3 1451.5 1297.9 1450.9 1295.5 1450.3 1293.1 1449.6 1290.7 1448.9 1288.3 1448.3 1285.9 1447.6 1283.5 1446.9 1281.1 1446.2 1278.7 1445.4 1276.3 1444.7 1273.9 1444.0 1271.6 1443.2 1269.2 1442.5 1266.8 1441.7 1264.4 1440.9 1262.1 1440.1 1259.7 1439.3 1257.3 1438.4 1255.0 1437.6 1252.6 1436.7 1250.3 1435.9 1247.9 1435.0 1245.6 1434.1 1243.3 1433.2 1240.9 1432.3 1238.6 1431.3 1236.3 1430.4 1233.9 1429.4 1231.6 1428.4 1229.3 1427.4 1227.0 1426.4 1224.7 1425.4 1222.4 1424.4 1220.1 1423.3 1217.8 1422.2 1215.5 1421.1 1213.2 1420.0 1211.0 1418.9 1208.7 1417.7 1206.5 1416.5 1204.3 1415.3 1202.2 1414.0 1200.0 1412.7 1198.0 1411.3 1195.9 1409.9 1193.9 1408.4 1192.0 1406.9 1190.1 1405.3 1188.2 1403.7 1186.4 1402.0 1184.7 1400.2 1183.0 1398.3 1181.4 1396.4 1179.9 1394.4 1178.4 1392.4 1177.1 1390.2 1175.8 1388.0 1174.8 1385.6 1174.1 1383.2 1173.8 1380.8 1174.0 1378.2 1174.6 1375.7 1175.6 1373.2 1176.9 1371.0 1178.4 1368.9 1180.2 1367.1 1182.1 1365.6 1184.1 1364.2 1186.3 1362.9 1188.6 1361.8 1190.8 1360.7 1193.2 1359.7 1195.5 1358.8 1197.9 1357.9 1200.2 1357.0 1202.6 1356.2 1205.0 1355.4 1207.5 1354.7 1209.9 1354.0 1212.3 1353.3 1214.7 1352.6 1217.2 1352.0 1219.6 1351.4 1222.0 1350.8 1224.5 1350.3 1226.9 1349.7 1229.4 1349.2 1231.8 1348.7 1234.2 1348.3 1236.7 1347.8 1239.1 1347.4 1241.6 1347.0 1244.1 1346.5 1246.5 1346.2 1249.0 1345.8 1251.4 1345.4 1253.9 1345.0 1256.4 1344.7 1258.8 1344.3 1261.3 1344.0 1263.8 1343.7 1266.2 1343.4 1268.7 1343.0 1271.2 1342.7 1273.7 1342.4 1276.2 1342.1 1278.7 1341.8 1281.2 1341.5 1283.6 1341.1 1286.1 1340.8 1288.6 1340.5 1291.1 1340.2 1293.6 1339.9 1296.1 1339.5 1298.7 1339.2 1301.2 1338.9 1303.7 1338.6 1306.2 1338.3 1308.7 1338.0 1311.2 1337.8 1313.7 1337.5 1316.2 1337.3 1318.7 1337.0 1321.2 1336.8 1323.8 1336.6 1326.3 1336.4 1328.8 1336.2 1331.3 1336.0 1333.8 1335.9 1336.3 1335.7 1338.8 1335.6 1341.3 1335.5 1343.8 1335.5 1346.3 1335.4 1348.8 1335.4 1351.3 1335.4 1353.8 1335.4 1356.3 1335.5 1358.8 1335.5 1361.3 1335.7 1363.7 1335.8 1366.2 1336.0 1368.7 1336.2 1371.2 1336.4 1373.6 1336.7 1376.1 1337.0 1378.6 1337.3 1381.0 1337.7 1383.5 1338.1 1385.9 1338.5 1388.4 1338.9 1390.8 1339.4 1393.2 1339.9 1395.7 1340.4 1398.1 1341.0 1400.6 1341.5 1403.0 1342.1 1405.4 1342.7 1407.8 1343.3 1410.3 1343.9 1412.7 1344.6 1415.1 1345.2 1417.6 1345.9 1420.0 1346.6 1422.4 1347.2 1424.8 1347.9 1427.3 1348.6 1429.7 1349.2 1432.1 1349.9 1434.6 1350.6 1437.0 1351.3 1439.4 1351.9 1441.9 1352.6 1444.3 1353.2 1446.7 1353.9 1449.2 1354.5 1451.6 1355.1 1454.1 1355.7 1456.5 1356.3 1459.0 1356.8 1461.4 1357.4 1463.9 1357.9 1466.3 1358.5 1468.8 1359.0 1471.3 1359.5 1473.7 1359.9 1476.2 1360.4 1478.7 1360.8 1481.2 1361.3 1483.6 1361.7 1486.1 1362.1 1488.6 1362.5 1491.1 1362.8 1493.5 1363.2 1496.0 1363.5 1498.5 1363.8 1501.0 1364.1 1503.5 1364.4 1506.0 1364.7 1508.5 1364.9 1511.0 1365.1 1513.5 1365.3 1516.0 1365.5 1518.4 1365.7 1520.9 1365.9 1523.4 1366.0 1525.9 1366.1 1528.4 1366.2 1530.9 1366.3 1533.4 1366.4 1535.9 1366.4 1538.4 1366.5 1540.9 1366.5 1543.4 1366.5 1545.9 1366.5 1548.4 1366.4 1550.9 1366.4 1553.4 1366.3 1555.9 1366.2 1558.4 1366.1 1560.9 1365.9 1563.4 1365.8 1565.9 1365.6 1568.4 1365.5 1570.9 1365.3 1573.4 1365.0 1575.9 1364.8 1578.4 1364.6 1580.9 1364.3 1583.4 1364.0 1585.9 1363.7 1588.3 1363.4 1590.8 1363.0 1593.3 1362.7 1595.8 1362.3 1598.3 1361.9 1600.8 1361.5 1603.2 1361.1 1605.7 1360.6 1608.2 1360.2 1610.6 1359.7 1613.1 1359.2 1615.6 1358.7 1618.0 1358.1 1620.5 1357.6 1623.0 1357.0 1625.4 1356.4 1627.8 1355.9 1630.3 1355.2 1632.7 1354.6 1635.2 1354.0 1637.6 1353.3 1640.0 1352.7 1642.4 1352.0 1644.8 1351.3 1647.2 1350.6 1649.6 1349.9 1652.0 1349.2 1654.3 1348.4 1656.7 1347.7 1659.1 1346.9 1661.4 1346.1 1663.7 1345.3 1666.1 1344.5 1668.4 1343.7 1670.6 1342.8 1672.9 1341.8 1675.1 1340.7 1677.3 1339.6 1679.4 1338.4 1681.5 1337.0 1683.6 1335.5 1685.6 1333.9 1687.5 1332.1 1689.4 1330.2 1691.2 1328.0 1692.9 1325.8 1694.4 1323.4 1695.6 1321.0 1696.6 1318.6 1697.2 1316.3 1697.3 1314.1 1696.8 1312.0 1695.8 1310.2 1694.2 1308.7 1692.1 1307.4 1689.7 1306.5 1687.2 1305.8 1684.5 1305.4 1681.9 1305.3 1679.4 1305.4 1676.8 1305.6 1674.2 1305.9 1671.7 1306.2 1669.1 1306.5 1666.6 1306.9 1664.1 1307.3 1661.5 1307.7 1659.1 1308.1 1656.6 1308.5 1654.2 1309.0 1651.8 1309.4 1649.5 1309.8 1647.2 1310.2 1645.0 1310.7 1642.8 1311.1 1640.6 1311.4 1638.4 1311.8 1636.2 1312.2 1633.9 1312.6 1631.6 1313.0 1629.2 1313.4 1626.7 1313.8 1624.1 1314.2 1621.4 1314.6 1618.5 1315.1 1615.4 1315.5 1612.2 1316.0 1608.8 1316.5 1605.5 1317.1 1602.6 1317.8 1600.3 1318.7 1598.7 1319.8 1598.1 1321.3 1598.7 1323.0 1600.2 1324.9 1602.2 1326.7 1604.4 1328.3 1606.7 1329.6 1609.0 1330.7 1611.4 1331.6 1613.8 1332.2 1616.2 1332.7 1618.7 1333.1 1621.3 1333.3 1623.8 1333.5 1626.4 1333.5 1629.0 1333.5 1631.5 1333.5 1634.1 1333.4 1636.7 1333.4 1639.3 1333.4 1641.8 1333.5 1644.4 1333.6 1646.9 1333.6 1649.4 1333.8 1651.9 1333.9 1654.4 1334.1 1656.9 1334.3 1659.4 1334.5 1661.9 1334.7 1664.4 1335.0 1666.9 1335.2 1669.4 1335.5 1671.9 1335.7 1674.3 1336.0 1676.8 1336.3 1679.3 1336.6 1681.8 1336.9 1684.2 1337.2 1686.7 1337.4 1689.2 1337.7 1691.7 1338.0 1694.1 1338.3 1696.6 1338.6 1699.1 1338.9 1701.6 1339.2 1704.1 1339.4 1706.5 1339.7 1709.0 1340.0 1711.5 1340.3 1714.0 1340.6 1716.5 1340.8 1718.9 1341.1 1721.4 1341.4 1723.9 1341.7 1726.4 1341.9 1728.9 1342.2 1731.4 1342.5 1733.8 1342.7 1736.3 1343.0 1738.8 1343.2 1741.3 1343.5 1743.8 1343.7 1746.3 1344.0 1748.8 1344.2 1751.3 1344.4 1753.8 1344.7 1756.3 1344.9 1758.8 1345.1 1761.3 1345.4 1763.8 1345.6 1766.3 1345.8 1768.8 1346.0 1771.3 1346.2 1773.8 1346.4 1776.3 1346.6 1778.8 1346.8 1781.3 1347.0 1783.8 1347.1 1786.3 1347.3 1788.8 1347.5 1791.3 1347.7 1793.8 1347.8 1796.3 1348.0 1798.8 1348.1 1801.3 1348.3 1803.8 1348.5 1806.3 1348.6 1808.8 1348.8 1811.4 1348.9 1813.9 1349.1 1816.4 1349.2 1818.9 1349.4 1821.4 1349.5 1823.9 1349.7 1826.4 1349.9 1828.9 1350.0 1831.4 1350.2 1833.9 1350.4 1836.4 1350.6 1838.9 1350.8 1841.4 1350.9 1843.9 1351.1 1846.4 1351.3 1848.9 1351.6 1851.4 1351.8 1853.9 1352.0 1856.4 1352.2 1858.9 1352.5 1861.4 1352.7 1863.9 1353.0 1866.4 1353.3 1868.9 1353.5 1871.3 1353.8 1873.8 1354.1 1876.3 1354.4 1878.8 1354.8 1881.2 1355.1 1883.7 1355.5 1886.2 1355.8 1888.6 1356.2 1891.1 1356.6 1893.6 1357.0 1896.0 1357.5 1898.5 1357.9 1900.9 1358.4 1903.4 1358.8 1905.8 1359.3 1908.3 1359.9 1910.7 1360.4 1913.1 1360.9 1915.6 1361.5 1918.0 1362.1 1920.4 1362.7 1922.8 1363.3 1925.2 1364.0 1927.7 1364.7 1930.1 1365.3 1932.5 1366.1 1934.9 1366.8 1937.2 1367.6 1939.6 1368.4 1942.0 1369.2 1944.4 1370.0L1971.5 1392.2L1978.0 1393.5L1987.3 1380.0L1988.0 1377.6 1988.7 1375.2 1989.3 1372.8 1990.0 1370.3 1990.6 1367.9 1991.2 1365.5 1991.9 1363.1 1992.5 1360.6 1993.1 1358.2 1993.7 1355.8 1994.3 1353.3 1994.8 1350.9 1995.4 1348.5 1996.0 1346.0 1996.5 1343.6 1997.1 1341.1 1997.6 1338.7 1998.2 1336.2 1998.7 1333.8 1999.2 1331.3 1999.7 1328.9 2000.2 1326.4 2000.7 1324.0 2001.2 1321.5 2001.7 1319.1 2002.2 1316.6 2002.7 1314.1 2003.2 1311.7 2003.6 1309.2 2004.1 1306.8 2004.5 1304.3 2005.0 1301.8 2005.5 1299.4 2005.9 1296.9 2006.4 1294.4 2006.8 1292.0 2007.2 1289.5 2007.7 1287.0 2008.1 1284.6 2008.5 1282.1 2009.0 1279.6 2009.4 1277.1 2009.8 1274.7 2010.2 1272.2 2010.7 1269.7 2011.1 1267.3 2011.5 1264.8 2011.9 1262.3 2012.3 1259.8 2012.7 1257.4 2013.2 1254.9 2013.6 1252.4 2014.0 1249.9 2014.4 1247.5 2014.8 1245.0 2015.2 1242.5 2015.6 1240.0 2016.0 1237.6 2016.4 1235.1 2016.8 1232.6 2017.2 1230.1 2017.5 1227.7 2017.9 1225.2 2018.3 1222.7 2018.7 1220.2 2019.1 1217.8 2019.5 1215.3 2019.8 1212.8 2020.2 1210.3 2020.6 1207.8 2021.0 1205.4 2021.4 1202.9 2021.7 1200.4 2022.1 1197.9 2022.5 1195.4 2022.8 1193.0 2023.2 1190.5 2023.6 1188.0 2023.9 1185.5 2024.3 1183.0 2024.7 1180.6 2025.0 1178.1 2025.4 1175.6 2025.8 1173.1 2026.1 1170.6 2026.5 1168.2 2026.8 1165.7 2027.2 1163.2 2027.5 1160.7 2027.9 1158.2 2028.3 1155.7 2028.6 1153.3 2029.0 1150.8 2029.3 1148.3 2029.7 1145.8 2030.0 1143.3 2030.4 1140.9 2030.7 1138.4 2031.1 1135.9 2031.4 1133.4 2031.8 1130.9 2032.1 1128.4 2032.5 1126.0 2032.8 1123.5 2033.2 1121.0 2033.5 1118.5 2033.9 1116.0 2034.2 1113.6 2034.6 1111.1 2034.9 1108.6 2035.3 1106.1 2035.6 1103.6 2036.0 1101.1 2036.3 1098.7 2036.7 1096.2 2037.0 1093.7 2037.4 1091.2 2037.7 1088.7 2038.1 1086.3 2038.4 1083.8 2038.8 1081.3 2039.1 1078.8 2039.5 1076.3 2039.8 1073.9 2040.2 1071.4 2040.6 1068.9 2040.9 1066.4 2041.3 1063.9 2041.6 1061.5 2042.0 1059.0 2042.4 1056.5 2042.7 1054.0 2043.1 1051.5 2043.5 1049.1 2043.8 1046.6 2044.2 1044.1 2044.5 1041.6 2044.9 1039.2 2045.3 1036.7 2045.7 1034.2 2046.0 1031.7 2046.4 1029.2 2046.8 1026.8 2047.1 1024.3 2047.5 1021.8 2047.9 1019.3 2048.2 1016.8 2048.6 1014.4 2049.0 1011.9 2049.3 1009.4 2049.7 1006.9 2050.1 1004.5 2050.5 1002.0 2050.8 999.5 2051.2 997.0 2051.6 994.5 2051.9 992.1 2052.3 989.6 2052.7 987.1 2053.0 984.6 2053.4 982.1 2053.7 979.7 2054.1 977.2 2054.5 974.7 2054.8 972.2 2055.2 969.7 2055.6 967.3 2055.9 964.8 2056.3 962.3 2056.6 959.8 2057.0 957.3 2057.3 954.9 2057.7 952.4 2058.1 949.9 2058.4 947.4 2058.8 944.9 2059.1 942.5 2059.5 940.0 2059.8 937.5 2060.2 935.0 2060.6 932.5 2060.9 930.1 2061.3 927.6 2061.6 925.1 2062.0 922.6 2062.3 920.1 2062.7 917.6 2063.0 915.2 2063.4 912.7 2063.7 910.2 2064.1 907.7 2064.4 905.2 2064.8 902.8 2065.1 900.3 2065.5 897.8 2065.8 895.3 2066.2 892.8 2066.5 890.3 2066.9 887.9 2067.3 885.4 2067.6 882.9 2068.0 880.4 2068.3 877.9 2068.7 875.5 2069.0 873.0 2069.4 870.5 2069.7 868.0 2070.1 865.5 2070.4 863.0 2070.8 860.6 2071.1 858.1 2071.5 855.6 2071.9 853.1 2072.2 850.6 2072.6 848.2 2072.9 845.7 2073.3 843.2 2073.6 840.7 2074.0 838.2 2074.4 835.7 2074.7 833.3 2075.1 830.8 2075.4 828.3 2075.8 825.8 2076.2 823.3 2076.5 820.9 2076.9 818.4 2077.2 815.9 2077.6 813.4 2078.0 810.9 2078.3 808.5 2078.7 806.0 2079.1 803.5 2079.4 801.0 2079.8 798.5 2080.2 796.1 2080.5 793.6 2080.9 791.1 2081.3 788.6 2081.6 786.1 2082.0 783.7 2082.4 781.2 2082.8 778.7 2083.1 776.2 2083.5 773.7 2083.9 771.3 2084.3 768.8 2084.7 766.3 2085.0 763.8 2085.4 761.4 2085.8 758.9 2086.2 756.4 2086.6 753.9 2087.0 751.5 2087.3 749.0 2087.7 746.5 2088.1 744.0 2088.5 741.5 2088.9 739.1 2089.3 736.6 2089.7 734.1 2090.1 731.6 2090.5 729.2 2090.9 726.7 2091.3 724.2 2091.7 721.8 2092.1 719.3 2092.5 716.8 2092.9 714.3 2093.3 711.9 2093.7 709.4 2094.1 706.9 2094.5 704.4 2094.9 702.0 2095.3 699.5 2095.8 697.0 2096.2 694.5 2096.6 692.1 2097.0 689.6 2097.4 687.1 2097.8 684.7 2098.2 682.2 2098.7 679.7 2099.1 677.2 2099.5 674.8 2099.9 672.3 2100.3 669.8 2100.7 667.4 2101.2 664.9 2101.6 662.4 2102.0 660.0 2102.4 657.5 2102.8 655.0 2103.3 652.5 2103.7 650.1 2104.1 647.6 2104.5 645.1 2105.0 642.7 2105.4 640.2 2105.8 637.7 2106.2 635.2 2106.6 632.8 2107.1 630.3 2107.5 627.8 2107.9 625.4 2108.3 622.9 2108.7 620.4 2109.2 618.0 2109.6 615.5 2110.0 613.0 2110.4 610.5 2110.8 608.1 2111.3 605.6 2111.7 603.1 2112.1 600.7 2112.5 598.2 2112.9 595.7 2113.3 593.2 2113.7 590.8 2114.2 588.3 2114.6 585.8 2115.0 583.4 2115.4 580.9 2115.8 578.4 2116.2 575.9 2116.6 573.5 2117.0 571.0 2117.4 568.5 2117.8 566.0 2118.2 563.6 2118.6 561.1 2119.0 558.6 2119.4 556.1 2119.8 553.7 2120.2 551.2 2120.6 548.7 2121.0 546.2 2121.4 543.8 2121.8 541.3 2122.2 538.8 2122.6 536.3 2123.0 533.9 2123.4 531.4 2123.7 528.9 2124.1 526.4 2124.5 524.0 2124.9 521.5 2125.3 519.0 2125.6 516.5 2126.0 514.0 2126.4 511.6 2126.7 509.1 2127.1 506.6 2127.5 504.1 2127.8 501.6 2128.2 499.2 2128.5 496.7 2128.9 494.2"/>
</g>
</svg></body></html>
